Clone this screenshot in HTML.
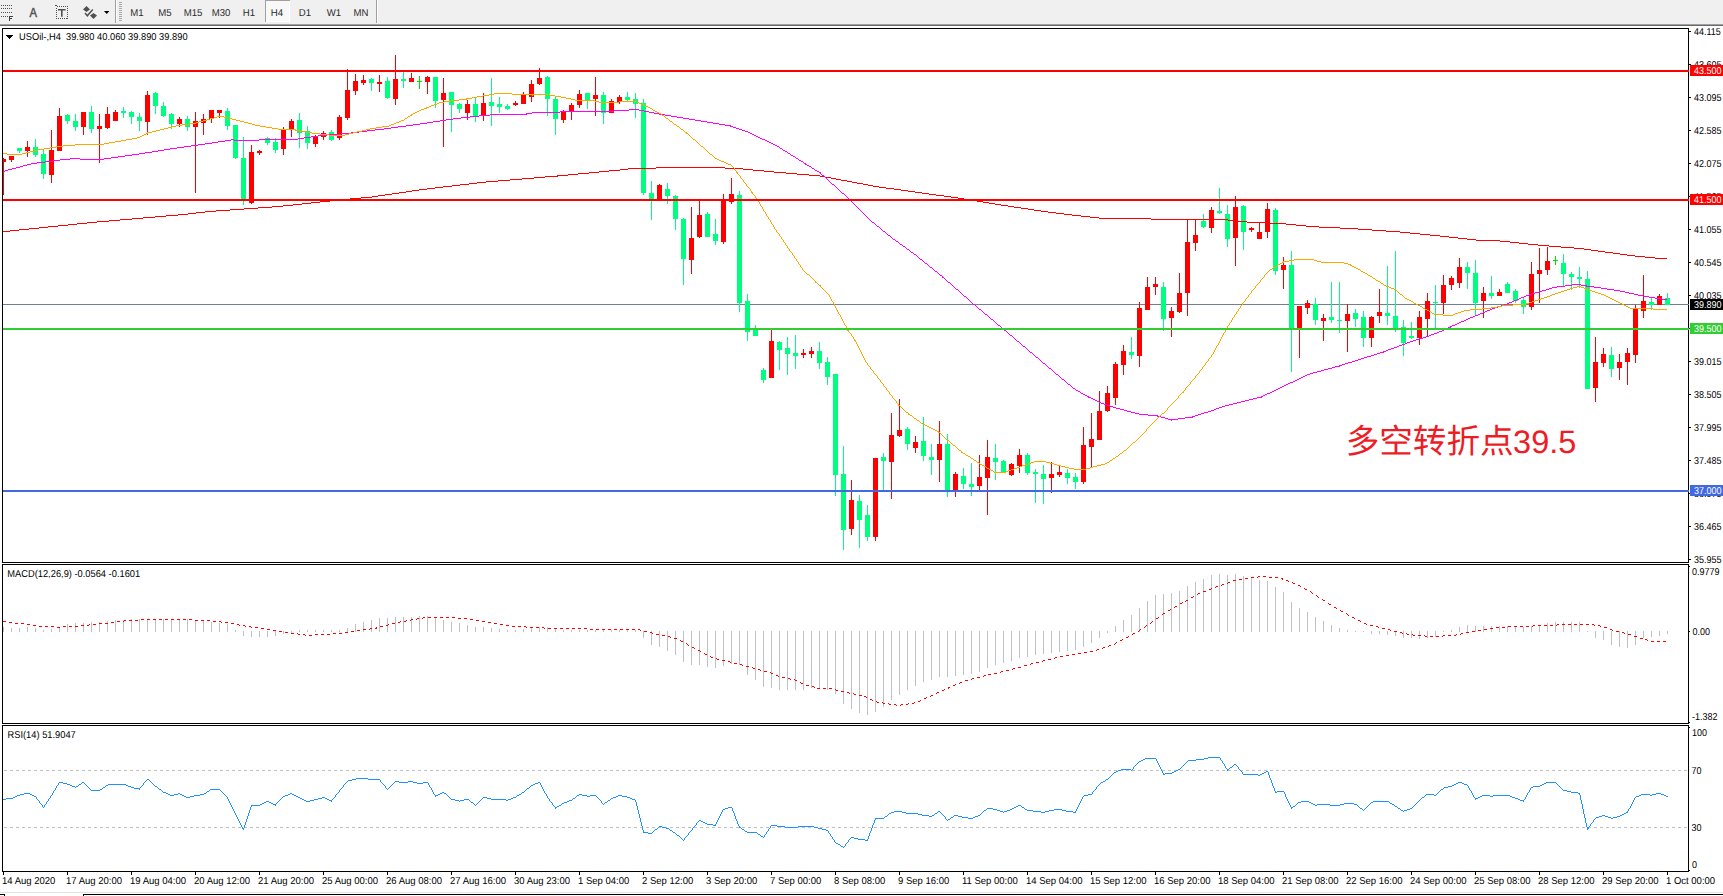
<!DOCTYPE html>
<html lang="zh"><head><meta charset="utf-8"><title>USOil H4</title>
<style>
html,body{margin:0;padding:0;background:#fff;}
body{width:1723px;height:896px;overflow:hidden;position:relative;font-family:"Liberation Sans", "Noto Sans CJK SC", sans-serif;}
#toolbar{position:absolute;left:0;top:0;width:1723px;height:24px;background:#f0f0f0;border-bottom:1px solid #a0a0a0;box-shadow:0 1px 0 #696969;}
#toolbar .tf{position:absolute;top:0;width:28px;height:22px;line-height:27px;text-align:center;font-size:10px;color:#2a2a2a;text-rendering:geometricPrecision;transform:scaleX(0.96);}
#toolbar .tfon{position:absolute;left:265px;top:0;width:25px;height:22px;background:#f8f8f8;box-shadow:inset 1px 1px 0 #a0a0a0, inset -1px -1px 0 #fff;}
#toolbar .sep{position:absolute;top:0;width:1px;height:23px;background:#a0a0a0;box-shadow:1px 0 0 #fff;}
#toolbar .grip{position:absolute;left:119px;top:2px;width:3px;height:19px;background:repeating-linear-gradient(#a8a8a8 0 1px,transparent 1px 2px);}
#toolbar svg{position:absolute;left:0;top:0;}
#chart{position:absolute;left:0;top:0;}
#chart text{font-family:"Liberation Sans", "Noto Sans CJK SC", sans-serif;}
</style></head><body>
<div id="chart"><svg width="1723" height="896" viewBox="0 0 1723 896" shape-rendering="crispEdges" text-rendering="geometricPrecision" font-family='"Liberation Sans", "Noto Sans CJK SC", sans-serif' font-size="10">
<g id="frames">
<rect x="2" y="28" width="1687" height="1" fill="#000"/>
<rect x="2" y="562" width="1687" height="1" fill="#000"/>
<rect x="2" y="28" width="1" height="535" fill="#000"/>
<rect x="1688" y="28" width="1" height="535" fill="#000"/>
<rect x="2" y="564" width="1687" height="1" fill="#000"/>
<rect x="2" y="723" width="1687" height="1" fill="#000"/>
<rect x="2" y="564" width="1" height="160" fill="#000"/>
<rect x="1688" y="564" width="1" height="160" fill="#000"/>
<rect x="2" y="725" width="1687" height="1" fill="#000"/>
<rect x="2" y="871" width="1687" height="1" fill="#000"/>
<rect x="2" y="725" width="1" height="147" fill="#000"/>
<rect x="1688" y="725" width="1" height="147" fill="#000"/>
</g>
<g id="main-chart">
<rect x="3" y="304" width="1686" height="1" fill="#708090"/>
<g id="candles">
<rect x="3" y="158" width="1" height="37" fill="#ff0000"/>
<rect x="3" y="159" width="3" height="3" fill="#ff0000"/>
<rect x="11" y="156" width="1" height="6" fill="#ff0000"/>
<rect x="9" y="156" width="5" height="4" fill="#ff0000"/>
<rect x="19" y="148" width="1" height="5" fill="#00ff7f"/>
<rect x="17" y="148" width="5" height="3" fill="#00ff7f"/>
<rect x="27" y="141" width="1" height="16" fill="#ff0000"/>
<rect x="25" y="147" width="5" height="4" fill="#ff0000"/>
<rect x="35" y="139" width="1" height="18" fill="#00ff7f"/>
<rect x="33" y="147" width="5" height="8" fill="#00ff7f"/>
<rect x="43" y="150" width="1" height="29" fill="#00ff7f"/>
<rect x="41" y="154" width="5" height="20" fill="#00ff7f"/>
<rect x="51" y="130" width="1" height="53" fill="#ff0000"/>
<rect x="49" y="150" width="5" height="25" fill="#ff0000"/>
<rect x="59" y="108" width="1" height="43" fill="#ff0000"/>
<rect x="57" y="116" width="5" height="35" fill="#ff0000"/>
<rect x="67" y="114" width="1" height="10" fill="#00ff7f"/>
<rect x="65" y="115" width="5" height="6" fill="#00ff7f"/>
<rect x="75" y="114" width="1" height="17" fill="#00ff7f"/>
<rect x="73" y="121" width="5" height="6" fill="#00ff7f"/>
<rect x="83" y="112" width="1" height="23" fill="#ff0000"/>
<rect x="81" y="112" width="5" height="15" fill="#ff0000"/>
<rect x="91" y="106" width="1" height="27" fill="#00ff7f"/>
<rect x="89" y="112" width="5" height="17" fill="#00ff7f"/>
<rect x="99" y="114" width="1" height="49" fill="#ff0000"/>
<rect x="97" y="126" width="5" height="3" fill="#ff0000"/>
<rect x="107" y="107" width="1" height="22" fill="#ff0000"/>
<rect x="105" y="114" width="5" height="14" fill="#ff0000"/>
<rect x="115" y="110" width="1" height="11" fill="#ff0000"/>
<rect x="113" y="112" width="5" height="9" fill="#ff0000"/>
<rect x="123" y="107" width="1" height="11" fill="#00ff7f"/>
<rect x="121" y="111" width="5" height="2" fill="#00ff7f"/>
<rect x="131" y="111" width="1" height="13" fill="#00ff7f"/>
<rect x="129" y="112" width="5" height="5" fill="#00ff7f"/>
<rect x="139" y="113" width="1" height="18" fill="#00ff7f"/>
<rect x="137" y="117" width="5" height="4" fill="#00ff7f"/>
<rect x="147" y="91" width="1" height="44" fill="#ff0000"/>
<rect x="145" y="95" width="5" height="27" fill="#ff0000"/>
<rect x="155" y="92" width="1" height="22" fill="#00ff7f"/>
<rect x="153" y="93" width="5" height="13" fill="#00ff7f"/>
<rect x="163" y="102" width="1" height="15" fill="#00ff7f"/>
<rect x="161" y="106" width="5" height="10" fill="#00ff7f"/>
<rect x="171" y="113" width="1" height="16" fill="#00ff7f"/>
<rect x="169" y="114" width="5" height="10" fill="#00ff7f"/>
<rect x="179" y="117" width="1" height="10" fill="#ff0000"/>
<rect x="177" y="119" width="5" height="5" fill="#ff0000"/>
<rect x="187" y="116" width="1" height="15" fill="#00ff7f"/>
<rect x="185" y="119" width="5" height="8" fill="#00ff7f"/>
<rect x="195" y="112" width="1" height="81" fill="#ff0000"/>
<rect x="193" y="121" width="5" height="6" fill="#ff0000"/>
<rect x="203" y="114" width="1" height="21" fill="#ff0000"/>
<rect x="201" y="119" width="5" height="4" fill="#ff0000"/>
<rect x="211" y="110" width="1" height="13" fill="#ff0000"/>
<rect x="209" y="110" width="5" height="9" fill="#ff0000"/>
<rect x="219" y="110" width="1" height="8" fill="#ff0000"/>
<rect x="217" y="110" width="5" height="3" fill="#ff0000"/>
<rect x="227" y="108" width="1" height="22" fill="#00ff7f"/>
<rect x="225" y="111" width="5" height="15" fill="#00ff7f"/>
<rect x="235" y="125" width="1" height="34" fill="#00ff7f"/>
<rect x="233" y="125" width="5" height="33" fill="#00ff7f"/>
<rect x="243" y="137" width="1" height="68" fill="#00ff7f"/>
<rect x="241" y="158" width="5" height="43" fill="#00ff7f"/>
<rect x="251" y="145" width="1" height="59" fill="#ff0000"/>
<rect x="249" y="152" width="5" height="51" fill="#ff0000"/>
<rect x="259" y="150" width="1" height="5" fill="#ff0000"/>
<rect x="257" y="151" width="5" height="2" fill="#ff0000"/>
<rect x="267" y="137" width="1" height="8" fill="#00ff7f"/>
<rect x="265" y="138" width="5" height="5" fill="#00ff7f"/>
<rect x="275" y="138" width="1" height="15" fill="#00ff7f"/>
<rect x="273" y="142" width="5" height="8" fill="#00ff7f"/>
<rect x="283" y="127" width="1" height="28" fill="#ff0000"/>
<rect x="281" y="130" width="5" height="19" fill="#ff0000"/>
<rect x="291" y="119" width="1" height="18" fill="#ff0000"/>
<rect x="289" y="121" width="5" height="8" fill="#ff0000"/>
<rect x="299" y="113" width="1" height="35" fill="#00ff7f"/>
<rect x="297" y="120" width="5" height="13" fill="#00ff7f"/>
<rect x="307" y="126" width="1" height="23" fill="#00ff7f"/>
<rect x="305" y="131" width="5" height="12" fill="#00ff7f"/>
<rect x="315" y="135" width="1" height="12" fill="#ff0000"/>
<rect x="313" y="137" width="5" height="7" fill="#ff0000"/>
<rect x="323" y="131" width="1" height="9" fill="#ff0000"/>
<rect x="321" y="133" width="5" height="4" fill="#ff0000"/>
<rect x="331" y="130" width="1" height="11" fill="#00ff7f"/>
<rect x="329" y="132" width="5" height="8" fill="#00ff7f"/>
<rect x="339" y="115" width="1" height="25" fill="#ff0000"/>
<rect x="337" y="117" width="5" height="21" fill="#ff0000"/>
<rect x="347" y="69" width="1" height="51" fill="#ff0000"/>
<rect x="345" y="90" width="5" height="28" fill="#ff0000"/>
<rect x="355" y="74" width="1" height="21" fill="#ff0000"/>
<rect x="353" y="81" width="5" height="10" fill="#ff0000"/>
<rect x="363" y="75" width="1" height="10" fill="#ff0000"/>
<rect x="361" y="80" width="5" height="3" fill="#ff0000"/>
<rect x="371" y="78" width="1" height="13" fill="#00ff7f"/>
<rect x="369" y="79" width="5" height="4" fill="#00ff7f"/>
<rect x="379" y="75" width="1" height="17" fill="#ff0000"/>
<rect x="377" y="82" width="5" height="2" fill="#ff0000"/>
<rect x="387" y="77" width="1" height="22" fill="#00ff7f"/>
<rect x="385" y="81" width="5" height="17" fill="#00ff7f"/>
<rect x="395" y="55" width="1" height="50" fill="#ff0000"/>
<rect x="393" y="79" width="5" height="20" fill="#ff0000"/>
<rect x="403" y="72" width="1" height="16" fill="#00ff7f"/>
<rect x="401" y="79" width="5" height="2" fill="#00ff7f"/>
<rect x="411" y="73" width="1" height="9" fill="#ff0000"/>
<rect x="409" y="78" width="5" height="4" fill="#ff0000"/>
<rect x="419" y="76" width="1" height="13" fill="#00e000"/>
<rect x="417" y="81" width="5" height="1" fill="#00e000"/>
<rect x="427" y="76" width="1" height="18" fill="#ff0000"/>
<rect x="425" y="77" width="5" height="5" fill="#ff0000"/>
<rect x="435" y="77" width="1" height="31" fill="#00ff7f"/>
<rect x="433" y="77" width="5" height="24" fill="#00ff7f"/>
<rect x="443" y="78" width="1" height="69" fill="#ff0000"/>
<rect x="441" y="93" width="5" height="7" fill="#ff0000"/>
<rect x="451" y="92" width="1" height="40" fill="#00ff7f"/>
<rect x="449" y="92" width="5" height="13" fill="#00ff7f"/>
<rect x="459" y="103" width="1" height="10" fill="#00ff7f"/>
<rect x="457" y="104" width="5" height="5" fill="#00ff7f"/>
<rect x="467" y="100" width="1" height="20" fill="#ff0000"/>
<rect x="465" y="104" width="5" height="9" fill="#ff0000"/>
<rect x="475" y="97" width="1" height="25" fill="#00ff7f"/>
<rect x="473" y="104" width="5" height="12" fill="#00ff7f"/>
<rect x="483" y="93" width="1" height="28" fill="#ff0000"/>
<rect x="481" y="103" width="5" height="13" fill="#ff0000"/>
<rect x="491" y="78" width="1" height="48" fill="#00ff7f"/>
<rect x="489" y="102" width="5" height="4" fill="#00ff7f"/>
<rect x="499" y="97" width="1" height="16" fill="#00ff7f"/>
<rect x="497" y="104" width="5" height="3" fill="#00ff7f"/>
<rect x="507" y="104" width="1" height="6" fill="#00ff7f"/>
<rect x="505" y="106" width="5" height="3" fill="#00ff7f"/>
<rect x="515" y="101" width="1" height="5" fill="#ff0000"/>
<rect x="513" y="103" width="5" height="2" fill="#ff0000"/>
<rect x="523" y="92" width="1" height="12" fill="#ff0000"/>
<rect x="521" y="95" width="5" height="9" fill="#ff0000"/>
<rect x="531" y="80" width="1" height="22" fill="#ff0000"/>
<rect x="529" y="84" width="5" height="13" fill="#ff0000"/>
<rect x="539" y="68" width="1" height="17" fill="#ff0000"/>
<rect x="537" y="78" width="5" height="6" fill="#ff0000"/>
<rect x="547" y="76" width="1" height="40" fill="#00ff7f"/>
<rect x="545" y="77" width="5" height="22" fill="#00ff7f"/>
<rect x="555" y="97" width="1" height="38" fill="#00ff7f"/>
<rect x="553" y="99" width="5" height="20" fill="#00ff7f"/>
<rect x="563" y="110" width="1" height="13" fill="#ff0000"/>
<rect x="561" y="111" width="5" height="9" fill="#ff0000"/>
<rect x="571" y="103" width="1" height="17" fill="#ff0000"/>
<rect x="569" y="105" width="5" height="7" fill="#ff0000"/>
<rect x="579" y="90" width="1" height="18" fill="#ff0000"/>
<rect x="577" y="94" width="5" height="11" fill="#ff0000"/>
<rect x="587" y="93" width="1" height="16" fill="#00ff7f"/>
<rect x="585" y="93" width="5" height="7" fill="#00ff7f"/>
<rect x="595" y="77" width="1" height="39" fill="#ff0000"/>
<rect x="593" y="95" width="5" height="4" fill="#ff0000"/>
<rect x="603" y="92" width="1" height="32" fill="#00ff7f"/>
<rect x="601" y="95" width="5" height="18" fill="#00ff7f"/>
<rect x="611" y="99" width="1" height="14" fill="#ff0000"/>
<rect x="609" y="101" width="5" height="12" fill="#ff0000"/>
<rect x="619" y="95" width="1" height="9" fill="#ff0000"/>
<rect x="617" y="97" width="5" height="5" fill="#ff0000"/>
<rect x="627" y="92" width="1" height="9" fill="#00ff7f"/>
<rect x="625" y="97" width="5" height="3" fill="#00ff7f"/>
<rect x="635" y="93" width="1" height="25" fill="#00ff7f"/>
<rect x="633" y="99" width="5" height="5" fill="#00ff7f"/>
<rect x="643" y="99" width="1" height="96" fill="#00ff7f"/>
<rect x="641" y="103" width="5" height="90" fill="#00ff7f"/>
<rect x="651" y="181" width="1" height="39" fill="#00ff7f"/>
<rect x="649" y="193" width="5" height="6" fill="#00ff7f"/>
<rect x="659" y="184" width="1" height="15" fill="#ff0000"/>
<rect x="657" y="185" width="5" height="14" fill="#ff0000"/>
<rect x="667" y="183" width="1" height="21" fill="#00ff7f"/>
<rect x="665" y="189" width="5" height="7" fill="#00ff7f"/>
<rect x="675" y="195" width="1" height="35" fill="#00ff7f"/>
<rect x="673" y="196" width="5" height="23" fill="#00ff7f"/>
<rect x="683" y="218" width="1" height="67" fill="#00ff7f"/>
<rect x="681" y="219" width="5" height="40" fill="#00ff7f"/>
<rect x="691" y="207" width="1" height="67" fill="#ff0000"/>
<rect x="689" y="238" width="5" height="22" fill="#ff0000"/>
<rect x="699" y="200" width="1" height="38" fill="#ff0000"/>
<rect x="697" y="215" width="5" height="22" fill="#ff0000"/>
<rect x="707" y="212" width="1" height="25" fill="#00ff7f"/>
<rect x="705" y="214" width="5" height="23" fill="#00ff7f"/>
<rect x="715" y="219" width="1" height="26" fill="#00ff7f"/>
<rect x="713" y="234" width="5" height="7" fill="#00ff7f"/>
<rect x="723" y="194" width="1" height="50" fill="#ff0000"/>
<rect x="721" y="199" width="5" height="43" fill="#ff0000"/>
<rect x="731" y="178" width="1" height="26" fill="#ff0000"/>
<rect x="729" y="194" width="5" height="8" fill="#ff0000"/>
<rect x="739" y="191" width="1" height="121" fill="#00ff7f"/>
<rect x="737" y="195" width="5" height="108" fill="#00ff7f"/>
<rect x="747" y="294" width="1" height="47" fill="#00ff7f"/>
<rect x="745" y="301" width="5" height="31" fill="#00ff7f"/>
<rect x="755" y="325" width="1" height="11" fill="#00ff7f"/>
<rect x="753" y="330" width="5" height="6" fill="#00ff7f"/>
<rect x="763" y="368" width="1" height="15" fill="#00ff7f"/>
<rect x="761" y="370" width="5" height="10" fill="#00ff7f"/>
<rect x="771" y="330" width="1" height="48" fill="#ff0000"/>
<rect x="769" y="341" width="5" height="37" fill="#ff0000"/>
<rect x="779" y="341" width="1" height="29" fill="#00ff7f"/>
<rect x="777" y="342" width="5" height="8" fill="#00ff7f"/>
<rect x="787" y="337" width="1" height="38" fill="#00ff7f"/>
<rect x="785" y="348" width="5" height="6" fill="#00ff7f"/>
<rect x="795" y="335" width="1" height="34" fill="#00ff7f"/>
<rect x="793" y="353" width="5" height="3" fill="#00ff7f"/>
<rect x="803" y="349" width="1" height="9" fill="#ff0000"/>
<rect x="801" y="353" width="5" height="2" fill="#ff0000"/>
<rect x="811" y="347" width="1" height="11" fill="#ff0000"/>
<rect x="809" y="351" width="5" height="3" fill="#ff0000"/>
<rect x="819" y="342" width="1" height="27" fill="#00ff7f"/>
<rect x="817" y="351" width="5" height="12" fill="#00ff7f"/>
<rect x="827" y="357" width="1" height="28" fill="#00ff7f"/>
<rect x="825" y="362" width="5" height="15" fill="#00ff7f"/>
<rect x="835" y="374" width="1" height="122" fill="#00ff7f"/>
<rect x="833" y="374" width="5" height="101" fill="#00ff7f"/>
<rect x="843" y="446" width="1" height="104" fill="#00ff7f"/>
<rect x="841" y="474" width="5" height="56" fill="#00ff7f"/>
<rect x="851" y="480" width="1" height="55" fill="#ff0000"/>
<rect x="849" y="500" width="5" height="29" fill="#ff0000"/>
<rect x="859" y="495" width="1" height="53" fill="#00ff7f"/>
<rect x="857" y="501" width="5" height="19" fill="#00ff7f"/>
<rect x="867" y="505" width="1" height="36" fill="#00ff7f"/>
<rect x="865" y="515" width="5" height="22" fill="#00ff7f"/>
<rect x="875" y="458" width="1" height="83" fill="#ff0000"/>
<rect x="873" y="458" width="5" height="79" fill="#ff0000"/>
<rect x="883" y="453" width="1" height="37" fill="#00ff7f"/>
<rect x="881" y="457" width="5" height="4" fill="#00ff7f"/>
<rect x="891" y="413" width="1" height="86" fill="#ff0000"/>
<rect x="889" y="435" width="5" height="27" fill="#ff0000"/>
<rect x="899" y="399" width="1" height="38" fill="#ff0000"/>
<rect x="897" y="430" width="5" height="6" fill="#ff0000"/>
<rect x="907" y="427" width="1" height="23" fill="#00ff7f"/>
<rect x="905" y="429" width="5" height="15" fill="#00ff7f"/>
<rect x="915" y="436" width="1" height="17" fill="#ff0000"/>
<rect x="913" y="442" width="5" height="6" fill="#ff0000"/>
<rect x="923" y="417" width="1" height="44" fill="#00ff7f"/>
<rect x="921" y="441" width="5" height="15" fill="#00ff7f"/>
<rect x="931" y="444" width="1" height="31" fill="#00ff7f"/>
<rect x="929" y="457" width="5" height="3" fill="#00ff7f"/>
<rect x="939" y="421" width="1" height="61" fill="#ff0000"/>
<rect x="937" y="444" width="5" height="16" fill="#ff0000"/>
<rect x="947" y="434" width="1" height="63" fill="#00ff7f"/>
<rect x="945" y="444" width="5" height="46" fill="#00ff7f"/>
<rect x="955" y="472" width="1" height="25" fill="#ff0000"/>
<rect x="953" y="474" width="5" height="16" fill="#ff0000"/>
<rect x="963" y="468" width="1" height="21" fill="#00ff7f"/>
<rect x="961" y="476" width="5" height="8" fill="#00ff7f"/>
<rect x="971" y="463" width="1" height="33" fill="#00ff7f"/>
<rect x="969" y="484" width="5" height="3" fill="#00ff7f"/>
<rect x="979" y="455" width="1" height="35" fill="#ff0000"/>
<rect x="977" y="477" width="5" height="9" fill="#ff0000"/>
<rect x="987" y="440" width="1" height="75" fill="#ff0000"/>
<rect x="985" y="457" width="5" height="21" fill="#ff0000"/>
<rect x="995" y="444" width="1" height="36" fill="#00ff7f"/>
<rect x="993" y="458" width="5" height="4" fill="#00ff7f"/>
<rect x="1003" y="460" width="1" height="13" fill="#00ff7f"/>
<rect x="1001" y="461" width="5" height="12" fill="#00ff7f"/>
<rect x="1011" y="463" width="1" height="13" fill="#ff0000"/>
<rect x="1009" y="464" width="5" height="11" fill="#ff0000"/>
<rect x="1019" y="449" width="1" height="24" fill="#ff0000"/>
<rect x="1017" y="455" width="5" height="11" fill="#ff0000"/>
<rect x="1027" y="453" width="1" height="22" fill="#00ff7f"/>
<rect x="1025" y="455" width="5" height="18" fill="#00ff7f"/>
<rect x="1035" y="469" width="1" height="34" fill="#00ff7f"/>
<rect x="1033" y="472" width="5" height="2" fill="#00ff7f"/>
<rect x="1043" y="465" width="1" height="39" fill="#00ff7f"/>
<rect x="1041" y="474" width="5" height="5" fill="#00ff7f"/>
<rect x="1051" y="462" width="1" height="31" fill="#ff0000"/>
<rect x="1049" y="474" width="5" height="4" fill="#ff0000"/>
<rect x="1059" y="466" width="1" height="11" fill="#ff0000"/>
<rect x="1057" y="472" width="5" height="3" fill="#ff0000"/>
<rect x="1067" y="469" width="1" height="15" fill="#00ff7f"/>
<rect x="1065" y="473" width="5" height="5" fill="#00ff7f"/>
<rect x="1075" y="473" width="1" height="16" fill="#00ff7f"/>
<rect x="1073" y="477" width="5" height="5" fill="#00ff7f"/>
<rect x="1083" y="427" width="1" height="57" fill="#ff0000"/>
<rect x="1081" y="445" width="5" height="37" fill="#ff0000"/>
<rect x="1091" y="413" width="1" height="54" fill="#ff0000"/>
<rect x="1089" y="439" width="5" height="8" fill="#ff0000"/>
<rect x="1099" y="391" width="1" height="49" fill="#ff0000"/>
<rect x="1097" y="411" width="5" height="29" fill="#ff0000"/>
<rect x="1107" y="386" width="1" height="26" fill="#ff0000"/>
<rect x="1105" y="393" width="5" height="18" fill="#ff0000"/>
<rect x="1115" y="362" width="1" height="43" fill="#ff0000"/>
<rect x="1113" y="364" width="5" height="34" fill="#ff0000"/>
<rect x="1123" y="345" width="1" height="30" fill="#ff0000"/>
<rect x="1121" y="351" width="5" height="14" fill="#ff0000"/>
<rect x="1131" y="337" width="1" height="22" fill="#00ff7f"/>
<rect x="1129" y="352" width="5" height="3" fill="#00ff7f"/>
<rect x="1139" y="302" width="1" height="65" fill="#ff0000"/>
<rect x="1137" y="308" width="5" height="48" fill="#ff0000"/>
<rect x="1147" y="277" width="1" height="33" fill="#ff0000"/>
<rect x="1145" y="287" width="5" height="23" fill="#ff0000"/>
<rect x="1155" y="277" width="1" height="18" fill="#ff0000"/>
<rect x="1153" y="284" width="5" height="3" fill="#ff0000"/>
<rect x="1163" y="282" width="1" height="49" fill="#00ff7f"/>
<rect x="1161" y="287" width="5" height="32" fill="#00ff7f"/>
<rect x="1171" y="307" width="1" height="30" fill="#ff0000"/>
<rect x="1169" y="311" width="5" height="7" fill="#ff0000"/>
<rect x="1179" y="273" width="1" height="40" fill="#ff0000"/>
<rect x="1177" y="293" width="5" height="19" fill="#ff0000"/>
<rect x="1187" y="220" width="1" height="96" fill="#ff0000"/>
<rect x="1185" y="242" width="5" height="51" fill="#ff0000"/>
<rect x="1195" y="220" width="1" height="31" fill="#ff0000"/>
<rect x="1193" y="235" width="5" height="8" fill="#ff0000"/>
<rect x="1203" y="214" width="1" height="14" fill="#00ff7f"/>
<rect x="1201" y="221" width="5" height="6" fill="#00ff7f"/>
<rect x="1211" y="207" width="1" height="26" fill="#ff0000"/>
<rect x="1209" y="210" width="5" height="18" fill="#ff0000"/>
<rect x="1219" y="188" width="1" height="26" fill="#00ff7f"/>
<rect x="1217" y="211" width="5" height="2" fill="#00ff7f"/>
<rect x="1227" y="205" width="1" height="42" fill="#00ff7f"/>
<rect x="1225" y="214" width="5" height="25" fill="#00ff7f"/>
<rect x="1235" y="196" width="1" height="70" fill="#ff0000"/>
<rect x="1233" y="207" width="5" height="31" fill="#ff0000"/>
<rect x="1243" y="205" width="1" height="45" fill="#00ff7f"/>
<rect x="1241" y="206" width="5" height="26" fill="#00ff7f"/>
<rect x="1251" y="227" width="1" height="5" fill="#ff0000"/>
<rect x="1249" y="228" width="5" height="2" fill="#ff0000"/>
<rect x="1259" y="223" width="1" height="16" fill="#ff0000"/>
<rect x="1257" y="232" width="5" height="7" fill="#ff0000"/>
<rect x="1267" y="203" width="1" height="35" fill="#ff0000"/>
<rect x="1265" y="209" width="5" height="23" fill="#ff0000"/>
<rect x="1275" y="208" width="1" height="67" fill="#00ff7f"/>
<rect x="1273" y="210" width="5" height="61" fill="#00ff7f"/>
<rect x="1283" y="257" width="1" height="32" fill="#ff0000"/>
<rect x="1281" y="265" width="5" height="5" fill="#ff0000"/>
<rect x="1291" y="251" width="1" height="121" fill="#00ff7f"/>
<rect x="1289" y="265" width="5" height="63" fill="#00ff7f"/>
<rect x="1299" y="306" width="1" height="52" fill="#ff0000"/>
<rect x="1297" y="306" width="5" height="22" fill="#ff0000"/>
<rect x="1307" y="300" width="1" height="14" fill="#ff0000"/>
<rect x="1305" y="303" width="5" height="5" fill="#ff0000"/>
<rect x="1315" y="298" width="1" height="27" fill="#00ff7f"/>
<rect x="1313" y="304" width="5" height="16" fill="#00ff7f"/>
<rect x="1323" y="314" width="1" height="27" fill="#ff0000"/>
<rect x="1321" y="318" width="5" height="3" fill="#ff0000"/>
<rect x="1331" y="282" width="1" height="41" fill="#00ff7f"/>
<rect x="1329" y="317" width="5" height="3" fill="#00ff7f"/>
<rect x="1339" y="282" width="1" height="51" fill="#00ff7f"/>
<rect x="1337" y="320" width="5" height="1" fill="#00ff7f"/>
<rect x="1347" y="304" width="1" height="48" fill="#ff0000"/>
<rect x="1345" y="314" width="5" height="7" fill="#ff0000"/>
<rect x="1355" y="309" width="1" height="18" fill="#00ff7f"/>
<rect x="1353" y="313" width="5" height="6" fill="#00ff7f"/>
<rect x="1363" y="311" width="1" height="36" fill="#00ff7f"/>
<rect x="1361" y="317" width="5" height="21" fill="#00ff7f"/>
<rect x="1371" y="316" width="1" height="31" fill="#ff0000"/>
<rect x="1369" y="317" width="5" height="21" fill="#ff0000"/>
<rect x="1379" y="289" width="1" height="34" fill="#ff0000"/>
<rect x="1377" y="312" width="5" height="4" fill="#ff0000"/>
<rect x="1387" y="266" width="1" height="59" fill="#00ff7f"/>
<rect x="1385" y="313" width="5" height="3" fill="#00ff7f"/>
<rect x="1395" y="251" width="1" height="81" fill="#00ff7f"/>
<rect x="1393" y="316" width="5" height="12" fill="#00ff7f"/>
<rect x="1403" y="320" width="1" height="36" fill="#00ff7f"/>
<rect x="1401" y="327" width="5" height="16" fill="#00ff7f"/>
<rect x="1411" y="322" width="1" height="17" fill="#00ff7f"/>
<rect x="1409" y="336" width="5" height="2" fill="#00ff7f"/>
<rect x="1419" y="311" width="1" height="34" fill="#ff0000"/>
<rect x="1417" y="317" width="5" height="21" fill="#ff0000"/>
<rect x="1427" y="293" width="1" height="43" fill="#ff0000"/>
<rect x="1425" y="301" width="5" height="18" fill="#ff0000"/>
<rect x="1435" y="285" width="1" height="43" fill="#00ff7f"/>
<rect x="1433" y="302" width="5" height="1" fill="#00ff7f"/>
<rect x="1443" y="275" width="1" height="39" fill="#ff0000"/>
<rect x="1441" y="285" width="5" height="18" fill="#ff0000"/>
<rect x="1451" y="276" width="1" height="14" fill="#ff0000"/>
<rect x="1449" y="278" width="5" height="7" fill="#ff0000"/>
<rect x="1459" y="258" width="1" height="30" fill="#ff0000"/>
<rect x="1457" y="267" width="5" height="16" fill="#ff0000"/>
<rect x="1467" y="262" width="1" height="27" fill="#00ff7f"/>
<rect x="1465" y="267" width="5" height="6" fill="#00ff7f"/>
<rect x="1475" y="260" width="1" height="56" fill="#00ff7f"/>
<rect x="1473" y="273" width="5" height="30" fill="#00ff7f"/>
<rect x="1483" y="287" width="1" height="31" fill="#ff0000"/>
<rect x="1481" y="293" width="5" height="8" fill="#ff0000"/>
<rect x="1491" y="276" width="1" height="23" fill="#00ff7f"/>
<rect x="1489" y="293" width="5" height="3" fill="#00ff7f"/>
<rect x="1499" y="289" width="1" height="7" fill="#ff0000"/>
<rect x="1497" y="292" width="5" height="4" fill="#ff0000"/>
<rect x="1507" y="282" width="1" height="11" fill="#00ff7f"/>
<rect x="1505" y="284" width="5" height="9" fill="#00ff7f"/>
<rect x="1515" y="289" width="1" height="14" fill="#00ff7f"/>
<rect x="1513" y="291" width="5" height="10" fill="#00ff7f"/>
<rect x="1523" y="298" width="1" height="16" fill="#00ff7f"/>
<rect x="1521" y="300" width="5" height="7" fill="#00ff7f"/>
<rect x="1531" y="262" width="1" height="48" fill="#ff0000"/>
<rect x="1529" y="274" width="5" height="33" fill="#ff0000"/>
<rect x="1539" y="248" width="1" height="55" fill="#ff0000"/>
<rect x="1537" y="270" width="5" height="4" fill="#ff0000"/>
<rect x="1547" y="247" width="1" height="28" fill="#ff0000"/>
<rect x="1545" y="261" width="5" height="9" fill="#ff0000"/>
<rect x="1555" y="256" width="1" height="9" fill="#00e000"/>
<rect x="1553" y="260" width="5" height="1" fill="#00e000"/>
<rect x="1563" y="254" width="1" height="32" fill="#00ff7f"/>
<rect x="1561" y="263" width="5" height="11" fill="#00ff7f"/>
<rect x="1571" y="272" width="1" height="18" fill="#00ff7f"/>
<rect x="1569" y="274" width="5" height="3" fill="#00ff7f"/>
<rect x="1579" y="267" width="1" height="21" fill="#00ff7f"/>
<rect x="1577" y="277" width="5" height="2" fill="#00ff7f"/>
<rect x="1587" y="271" width="1" height="118" fill="#00ff7f"/>
<rect x="1585" y="279" width="5" height="110" fill="#00ff7f"/>
<rect x="1595" y="337" width="1" height="65" fill="#ff0000"/>
<rect x="1593" y="362" width="5" height="26" fill="#ff0000"/>
<rect x="1603" y="348" width="1" height="19" fill="#ff0000"/>
<rect x="1601" y="354" width="5" height="9" fill="#ff0000"/>
<rect x="1611" y="347" width="1" height="30" fill="#00ff7f"/>
<rect x="1609" y="355" width="5" height="14" fill="#00ff7f"/>
<rect x="1619" y="354" width="1" height="26" fill="#ff0000"/>
<rect x="1617" y="362" width="5" height="6" fill="#ff0000"/>
<rect x="1627" y="348" width="1" height="37" fill="#ff0000"/>
<rect x="1625" y="353" width="5" height="9" fill="#ff0000"/>
<rect x="1635" y="305" width="1" height="58" fill="#ff0000"/>
<rect x="1633" y="309" width="5" height="46" fill="#ff0000"/>
<rect x="1643" y="275" width="1" height="43" fill="#ff0000"/>
<rect x="1641" y="301" width="5" height="10" fill="#ff0000"/>
<rect x="1651" y="298" width="1" height="12" fill="#00ff7f"/>
<rect x="1649" y="302" width="5" height="3" fill="#00ff7f"/>
<rect x="1659" y="294" width="1" height="11" fill="#ff0000"/>
<rect x="1657" y="296" width="5" height="9" fill="#ff0000"/>
<rect x="1667" y="293" width="1" height="12" fill="#00ff7f"/>
<rect x="1665" y="298" width="5" height="7" fill="#00ff7f"/>
</g>
<g id="moving-averages">
<path d="M656 167.5h69M628 168.5h28M725 168.5h18M620 169.5h8M743 169.5h10M609 170.5h11M753 170.5h11M599 171.5h10M764 171.5h10M589 172.5h10M774 172.5h12M578 173.5h11M786 173.5h11M568 174.5h10M797 174.5h12M557 175.5h11M809 175.5h11M545 176.5h13M820 176.5h5M534 177.5h11M825 177.5h6M522 178.5h12M831 178.5h5M510 179.5h12M836 179.5h5M498 180.5h12M841 180.5h6M486 181.5h12M847 181.5h5M477 182.5h9M852 182.5h5M469 183.5h8M857 183.5h6M460 184.5h9M863 184.5h5M452 185.5h8M868 185.5h5M443 186.5h9M873 186.5h6M435 187.5h8M879 187.5h7M427 188.5h8M886 188.5h8M419 189.5h8M894 189.5h7M412 190.5h7M901 190.5h7M406 191.5h6M908 191.5h7M399 192.5h7M915 192.5h7M392 193.5h7M922 193.5h7M385 194.5h7M929 194.5h7M378 195.5h7M936 195.5h8M372 196.5h6M944 196.5h7M361 197.5h11M951 197.5h7M350 198.5h11M958 198.5h6M340 199.5h10M964 199.5h7M330 200.5h10M971 200.5h6M320 201.5h10M977 201.5h6M311 202.5h9M983 202.5h6M302 203.5h9M989 203.5h6M293 204.5h9M995 204.5h6M283 205.5h10M1001 205.5h7M272 206.5h11M1008 206.5h6M258 207.5h14M1014 207.5h7M244 208.5h14M1021 208.5h7M230 209.5h14M1028 209.5h6M216 210.5h14M1034 210.5h7M205 211.5h11M1041 211.5h7M196 212.5h9M1048 212.5h8M188 213.5h8M1056 213.5h8M178 214.5h10M1064 214.5h8M166 215.5h12M1072 215.5h9M155 216.5h11M1081 216.5h9M143 217.5h12M1090 217.5h9M132 218.5h11M1099 218.5h52M120 219.5h12M1151 219.5h77M109 220.5h11M1228 220.5h8M97 221.5h12M1236 221.5h11M87 222.5h10M1247 222.5h19M77 223.5h10M1266 223.5h20M68 224.5h9M1286 224.5h10M58 225.5h10M1296 225.5h10M48 226.5h10M1306 226.5h13M39 227.5h9M1319 227.5h21M29 228.5h10M1340 228.5h18M19 229.5h10M1358 229.5h14M10 230.5h9M1372 230.5h14M3 231.5h7M1386 231.5h14M1400 232.5h10M1410 233.5h10M1420 234.5h10M1430 235.5h10M1440 236.5h9M1449 237.5h9M1458 238.5h9M1467 239.5h9M1476 240.5h24M1500 241.5h10M1510 242.5h9M1519 243.5h9M1528 244.5h10M1538 245.5h11M1549 246.5h12M1561 247.5h13M1574 248.5h10M1584 249.5h7M1591 250.5h7M1598 251.5h7M1605 252.5h8M1613 253.5h7M1620 254.5h7M1627 255.5h8M1635 256.5h10M1645 257.5h10M1655 258.5h12" fill="none" stroke="#ff0000" stroke-width="1"/>
<path d="M629 109.5h10M614 110.5h15M639 110.5h5M560 111.5h54M644 111.5h5M532 112.5h28M649 112.5h5M526 113.5h6M654 113.5h5M490 114.5h37M659 114.5h6M479 115.5h11M665 115.5h6M470 116.5h9M671 116.5h6M461 117.5h9M677 117.5h6M453 118.5h8M683 118.5h6M446 119.5h7M689 119.5h6M440 120.5h6M695 120.5h6M433 121.5h7M701 121.5h6M427 122.5h6M707 122.5h6M420 123.5h7M713 123.5h6M413 124.5h7M719 124.5h6M406 125.5h7M725 125.5h6M398 126.5h8M730 126.5h3M391 127.5h7M733 127.5h3M384 128.5h7M736 128.5h3M375 129.5h9M739 129.5h3M367 130.5h8M742 130.5h3M359 131.5h8M745 131.5h3M351 132.5h8M748 132.5h2M341 133.5h10M750 133.5h2M327 134.5h14M752 134.5h2M318 135.5h9M754 135.5h2M311 136.5h7M756 136.5h2M304 137.5h7M758 137.5h2M298 138.5h6M760 138.5h2M231 139.5h3M259 139.5h39M762 139.5h3M225 140.5h6M234 140.5h25M765 140.5h2M218 141.5h7M767 141.5h2M212 142.5h6M769 142.5h2M205 143.5h7M771 143.5h2M198 144.5h7M773 144.5h2M191 145.5h7M775 145.5h2M184 146.5h7M777 146.5h2M177 147.5h7M779 147.5h1M170 148.5h7M780 148.5h2M164 149.5h6M782 149.5h1M158 150.5h6M783 150.5h2M152 151.5h6M785 151.5h2M145 152.5h7M787 152.5h1M139 153.5h6M788 153.5h2M132 154.5h7M790 154.5h1M125 155.5h7M791 155.5h2M118 156.5h7M793 156.5h2M111 157.5h7M795 157.5h1M70 158.5h10M104 158.5h7M796 158.5h2M60 159.5h10M80 159.5h24M798 159.5h1M53 160.5h7M799 160.5h2M45 161.5h8M801 161.5h2M37 162.5h8M803 162.5h1M31 163.5h6M804 163.5h2M27 164.5h4M805 164.5h2M23 165.5h4M807 165.5h2M20 166.5h3M809 166.5h2M16 167.5h4M811 167.5h1M12 168.5h4M812 168.5h2M8 169.5h4M814 169.5h1M5 170.5h3M815 170.5h2M3 171.5h2M817 171.5h2M819 172.5h2M821 174.5h1M822 175.5h2M824 176.5h1M825 177.5h1M826 178.5h1M827 179.5h1M828 180.5h1M829 181.5h1M830 182.5h1M831 183.5h1M832 184.5h2M834 185.5h1M835 186.5h1M836 187.5h1M837 188.5h1M838 189.5h1M839 190.5h1M840 191.5h1M841 192.5h1M842 193.5h2M844 194.5h1M845 195.5h1M846 196.5h1M847 197.5h1M848 198.5h1M849 199.5h1M850 200.5h1M851 201.5h1M852 202.5h1M853 203.5h1M854 204.5h1M855 205.5h1M856 206.5h1M857 207.5h1M858 208.5h1M859 209.5h1M860 210.5h1M861 211.5h1M862 212.5h1M863 213.5h1M864 214.5h1M865 215.5h1M866 216.5h1M867 217.5h1M868 218.5h1M869 219.5h1M870 220.5h1M871 221.5h1M872 222.5h2M874 223.5h1M875 224.5h1M876 225.5h1M877 226.5h2M879 227.5h1M880 228.5h1M881 229.5h1M882 230.5h1M883 231.5h2M885 232.5h1M886 233.5h1M887 234.5h1M888 235.5h2M890 236.5h1M891 237.5h1M892 238.5h1M893 239.5h2M895 240.5h1M896 241.5h2M898 242.5h1M899 243.5h1M900 244.5h2M902 245.5h1M903 246.5h2M905 247.5h1M906 248.5h1M907 249.5h2M909 250.5h1M910 251.5h1M911 252.5h2M913 253.5h1M914 254.5h2M916 255.5h1M917 256.5h1M918 257.5h1M919 258.5h1M920 259.5h2M922 260.5h1M923 261.5h1M924 262.5h1M925 263.5h2M927 264.5h1M928 265.5h1M929 266.5h1M930 267.5h2M932 268.5h1M933 269.5h1M934 270.5h1M935 271.5h2M937 272.5h1M938 273.5h1M939 274.5h1M940 275.5h2M942 277.5h2M944 278.5h1M945 279.5h1M946 280.5h1M947 281.5h1M948 282.5h2M950 283.5h1M951 284.5h1M1572 284.5h9M952 285.5h1M1565 285.5h7M1581 285.5h6M953 286.5h1M1557 286.5h8M1586 286.5h8M954 287.5h1M1552 287.5h5M1594 287.5h7M955 288.5h1M1549 288.5h3M1601 288.5h6M956 289.5h2M1546 289.5h3M1607 289.5h7M958 290.5h1M1542 290.5h4M1614 290.5h6M959 291.5h1M1539 291.5h3M1620 291.5h5M960 292.5h1M1535 292.5h4M1625 292.5h4M961 293.5h1M1532 293.5h3M1629 293.5h5M962 294.5h1M1529 294.5h3M1634 294.5h4M963 295.5h1M1526 295.5h3M1638 295.5h5M964 296.5h2M1524 296.5h2M1643 296.5h6M966 297.5h1M1521 297.5h3M1649 297.5h6M967 298.5h1M1519 298.5h2M1655 298.5h7M968 299.5h1M1517 299.5h2M1662 299.5h5M969 300.5h1M1514 300.5h3M970 301.5h1M1512 301.5h2M971 302.5h1M1509 302.5h3M972 303.5h1M1507 303.5h2M973 304.5h2M1504 304.5h3M975 305.5h1M1501 305.5h3M976 306.5h1M1498 306.5h3M977 307.5h1M1495 307.5h3M978 308.5h1M1492 308.5h3M979 309.5h2M1490 309.5h2M981 310.5h1M1487 310.5h3M982 311.5h1M1485 311.5h2M983 312.5h1M1483 312.5h2M984 313.5h1M1480 313.5h3M985 314.5h2M1478 314.5h2M987 315.5h1M1475 315.5h3M988 316.5h1M1473 316.5h2M989 317.5h1M1470 317.5h3M990 318.5h1M1468 318.5h2M991 319.5h2M1466 319.5h2M993 320.5h1M1464 320.5h2M994 321.5h1M1461 321.5h3M995 322.5h1M1459 322.5h2M996 323.5h1M1457 323.5h2M997 324.5h1M1455 324.5h2M998 325.5h2M1452 325.5h3M1000 326.5h1M1450 326.5h2M1001 327.5h1M1448 327.5h3M1002 328.5h1M1446 328.5h2M1003 329.5h2M1444 329.5h2M1004 330.5h2M1442 330.5h2M1006 331.5h1M1439 331.5h3M1007 332.5h1M1437 332.5h2M1008 333.5h1M1434 333.5h3M1009 334.5h1M1431 334.5h3M1010 335.5h2M1429 335.5h2M1012 336.5h1M1426 336.5h3M1013 337.5h1M1423 337.5h3M1014 338.5h1M1419 338.5h4M1015 339.5h1M1416 339.5h3M1016 340.5h1M1413 340.5h3M1017 341.5h2M1410 341.5h3M1019 342.5h1M1407 342.5h3M1020 343.5h1M1405 343.5h2M1021 344.5h1M1402 344.5h3M1022 345.5h1M1399 345.5h3M1023 346.5h2M1397 346.5h2M1025 347.5h1M1394 347.5h3M1026 348.5h1M1391 348.5h3M1027 349.5h1M1388 349.5h3M1028 350.5h1M1386 350.5h2M1029 351.5h1M1383 351.5h3M1030 352.5h2M1380 352.5h4M1032 353.5h1M1377 353.5h3M1033 354.5h1M1374 354.5h3M1034 355.5h1M1371 355.5h3M1035 356.5h1M1367 356.5h4M1036 357.5h2M1364 357.5h3M1038 358.5h1M1361 358.5h3M1039 359.5h1M1358 359.5h3M1040 360.5h1M1355 360.5h3M1041 361.5h1M1352 361.5h3M1042 362.5h1M1348 362.5h4M1043 363.5h2M1345 363.5h3M1045 364.5h1M1342 364.5h3M1046 365.5h1M1339 365.5h3M1047 366.5h1M1335 366.5h5M1048 367.5h1M1332 367.5h3M1049 368.5h2M1328 368.5h4M1051 369.5h1M1324 369.5h4M1052 370.5h1M1321 370.5h3M1053 371.5h1M1317 371.5h4M1054 372.5h1M1313 372.5h4M1055 373.5h1M1310 373.5h3M1056 374.5h2M1307 374.5h3M1058 375.5h1M1305 375.5h2M1059 376.5h1M1303 376.5h2M1060 377.5h1M1301 377.5h2M1061 378.5h1M1299 378.5h2M1062 379.5h2M1297 379.5h2M1064 380.5h1M1295 380.5h2M1065 381.5h1M1293 381.5h2M1066 382.5h1M1290 382.5h3M1067 383.5h1M1288 383.5h2M1068 384.5h2M1286 384.5h2M1070 385.5h1M1284 385.5h2M1071 386.5h1M1282 386.5h2M1072 387.5h1M1280 387.5h2M1073 388.5h2M1278 388.5h2M1075 389.5h1M1276 389.5h2M1076 390.5h2M1274 390.5h2M1078 391.5h2M1272 391.5h2M1080 392.5h1M1270 392.5h2M1081 393.5h2M1267 393.5h3M1083 394.5h2M1265 394.5h2M1085 395.5h2M1263 395.5h2M1087 396.5h2M1261 396.5h2M1088 397.5h3M1257 397.5h5M1091 398.5h2M1253 398.5h4M1093 399.5h2M1249 399.5h4M1095 400.5h2M1245 400.5h4M1097 401.5h2M1241 401.5h4M1099 402.5h2M1237 402.5h4M1101 403.5h3M1233 403.5h4M1104 404.5h3M1229 404.5h4M1107 405.5h3M1225 405.5h4M1110 406.5h3M1222 406.5h3M1113 407.5h3M1219 407.5h3M1116 408.5h4M1216 408.5h3M1120 409.5h4M1214 409.5h2M1124 410.5h3M1211 410.5h3M1127 411.5h4M1208 411.5h3M1131 412.5h4M1204 412.5h4M1135 413.5h4M1201 413.5h3M1139 414.5h9M1198 414.5h3M1148 415.5h10M1195 415.5h3M1157 416.5h4M1192 416.5h3M1161 417.5h4M1185 417.5h8M1165 418.5h3M1178 418.5h7M1168 419.5h10M820.5 173v1M942.5 276v1M1171.5 420v1" fill="none" stroke="#ff00ff" stroke-width="1"/>
<path d="M494 93.5h18M489 94.5h5M512 94.5h38M483 95.5h6M550 95.5h5M477 96.5h6M555 96.5h6M472 97.5h5M561 97.5h5M466 98.5h6M566 98.5h5M459 99.5h8M571 99.5h4M451 100.5h8M575 100.5h20M444 101.5h7M595 101.5h4M619 101.5h18M439 102.5h5M599 102.5h20M637 102.5h2M437 103.5h2M639 103.5h2M434 104.5h3M641 104.5h3M431 105.5h3M644 105.5h2M429 106.5h2M646 106.5h2M426 107.5h3M648 107.5h2M424 108.5h3M650 108.5h2M421 109.5h3M652 109.5h1M419 110.5h2M653 110.5h2M417 111.5h2M655 111.5h2M415 112.5h2M657 112.5h2M413 113.5h2M659 113.5h2M411 114.5h2M661 114.5h1M410 115.5h2M662 115.5h2M217 116.5h7M408 116.5h2M664 116.5h1M214 117.5h3M224 117.5h4M407 117.5h1M665 117.5h1M210 118.5h4M228 118.5h4M405 118.5h2M666 118.5h2M207 119.5h3M232 119.5h4M404 119.5h1M668 119.5h1M203 120.5h4M236 120.5h4M401 120.5h3M669 120.5h1M199 121.5h4M240 121.5h4M399 121.5h2M670 121.5h2M196 122.5h3M244 122.5h4M396 122.5h3M672 122.5h1M189 123.5h7M248 123.5h4M394 123.5h2M673 123.5h1M182 124.5h7M252 124.5h3M391 124.5h3M674 124.5h2M176 125.5h6M255 125.5h5M389 125.5h2M676 125.5h1M172 126.5h4M260 126.5h6M382 126.5h7M677 126.5h2M168 127.5h4M266 127.5h6M376 127.5h6M679 127.5h1M164 128.5h4M272 128.5h6M370 128.5h6M680 128.5h1M160 129.5h4M278 129.5h18M366 129.5h4M681 129.5h2M156 130.5h4M295 130.5h6M362 130.5h4M683 130.5h1M152 131.5h4M301 131.5h6M357 131.5h5M684 131.5h1M147 132.5h5M307 132.5h5M353 132.5h4M685 132.5h2M146 133.5h2M312 133.5h8M349 133.5h4M686 133.5h2M144 134.5h2M320 134.5h9M345 134.5h4M688 134.5h1M142 135.5h2M329 135.5h16M689 135.5h1M140 136.5h2M690 136.5h1M137 137.5h3M691 137.5h1M132 138.5h5M692 138.5h1M126 139.5h6M693 139.5h2M121 140.5h5M695 140.5h1M115 141.5h6M696 141.5h1M109 142.5h6M697 142.5h1M104 143.5h5M698 143.5h1M75 144.5h29M699 144.5h1M63 145.5h12M700 145.5h1M56 146.5h7M701 146.5h2M50 147.5h6M703 147.5h1M44 148.5h6M704 148.5h1M38 149.5h6M705 149.5h1M34 150.5h4M706 150.5h1M30 151.5h4M707 151.5h1M26 152.5h4M708 152.5h1M3 153.5h4M22 153.5h4M709 153.5h1M7 154.5h15M710 154.5h2M712 155.5h1M713 156.5h1M714 157.5h1M715 158.5h2M717 159.5h2M719 160.5h2M721 161.5h3M724 162.5h2M726 163.5h2M728 164.5h3M731 165.5h1M732 166.5h1M733 167.5h1M735 170.5h1M736 172.5h2M738 174.5h1M739 175.5h1M741 178.5h1M742 179.5h1M744 182.5h1M745 183.5h1M747 186.5h1M748 187.5h1M749 188.5h1M751 192.5h2M753 194.5h1M754 195.5h1M756 199.5h2M758 201.5h1M761 206.5h1M764 211.5h1M767 216.5h1M769 219.5h1M772 224.5h1M775 229.5h1M777 232.5h1M778 233.5h1M780 236.5h1M782 239.5h1M784 242.5h1M786 245.5h1M788 248.5h1M790 251.5h1M791 252.5h1M793 255.5h1M795 258.5h1M1294 259.5h20M1289 260.5h5M1314 260.5h3M797 261.5h1M1283 261.5h6M1317 261.5h4M1282 262.5h2M1321 262.5h23M1280 263.5h2M1344 263.5h4M799 264.5h1M1278 264.5h2M1348 264.5h3M1277 265.5h1M1350 265.5h2M1275 266.5h2M1352 266.5h2M801 267.5h1M1273 267.5h2M1354 267.5h2M1272 268.5h1M1356 268.5h2M1270 269.5h2M1358 269.5h2M803 270.5h1M1269 270.5h1M1360 270.5h1M804 271.5h1M1268 271.5h1M1361 271.5h2M805 272.5h1M1267 272.5h1M1363 272.5h2M806 273.5h1M1266 273.5h1M1365 273.5h2M807 274.5h2M1265 274.5h1M1367 274.5h1M809 275.5h1M1368 275.5h2M810 276.5h1M1370 276.5h2M811 277.5h1M1263 277.5h1M1372 277.5h1M812 278.5h1M1262 278.5h1M1373 278.5h2M813 279.5h1M1261 279.5h1M1375 279.5h1M814 280.5h1M1376 280.5h2M1378 281.5h2M815 282.5h2M1259 282.5h1M1380 282.5h1M817 283.5h1M1258 283.5h1M1381 283.5h2M818 284.5h1M1257 284.5h1M1383 284.5h1M819 285.5h2M1256 285.5h1M1384 285.5h2M1386 286.5h3M1577 286.5h4M821 287.5h1M1389 287.5h2M1573 287.5h4M1581 287.5h3M822 288.5h1M1254 288.5h1M1391 288.5h3M1570 288.5h3M1584 288.5h2M823 289.5h1M1253 289.5h1M1394 289.5h2M1567 289.5h3M1586 289.5h3M824 290.5h1M1252 290.5h1M1396 290.5h1M1564 290.5h3M1589 290.5h3M825 291.5h1M1397 291.5h1M1561 291.5h3M1592 291.5h3M826 292.5h1M1398 292.5h1M1558 292.5h3M1595 292.5h3M827 293.5h1M1250 293.5h1M1399 293.5h1M1555 293.5h3M1598 293.5h3M828 294.5h1M1249 294.5h1M1400 294.5h2M1552 294.5h3M1601 294.5h3M1402 295.5h1M1550 295.5h2M1604 295.5h2M1403 296.5h1M1547 296.5h3M1606 296.5h2M1247 297.5h1M1404 297.5h1M1544 297.5h3M1608 297.5h2M1246 298.5h1M1405 298.5h2M1541 298.5h3M1610 298.5h2M1407 299.5h2M1538 299.5h3M1612 299.5h2M1409 300.5h2M1535 300.5h3M1614 300.5h2M832 301.5h1M1244 301.5h1M1411 301.5h2M1532 301.5h3M1616 301.5h2M1243 302.5h1M1413 302.5h1M1529 302.5h3M1618 302.5h2M1414 303.5h2M1526 303.5h3M1620 303.5h2M1416 304.5h2M1513 304.5h13M1622 304.5h2M1241 305.5h1M1418 305.5h2M1502 305.5h11M1624 305.5h2M1420 306.5h2M1497 306.5h5M1626 306.5h2M1422 307.5h1M1491 307.5h6M1628 307.5h2M1239 308.5h1M1423 308.5h2M1482 308.5h9M1630 308.5h23M1425 309.5h2M1470 309.5h12M1653 309.5h14M1427 310.5h2M1464 310.5h6M1237 311.5h1M1429 311.5h2M1461 311.5h3M1431 312.5h1M1458 312.5h3M1432 313.5h2M1455 313.5h3M839 314.5h1M1235 314.5h1M1434 314.5h9M1453 314.5h2M1443 315.5h10M1233 317.5h1M1230 322.5h1M845 325.5h1M1228 325.5h1M847 330.5h2M849 332.5h1M1224 332.5h1M850 333.5h1M852 336.5h1M854 340.5h2M1217 345.5h1M1212 354.5h1M1210 357.5h1M1209 358.5h1M1207 361.5h1M866 362.5h1M1206 362.5h1M868 365.5h1M1204 365.5h1M869 366.5h1M1203 366.5h1M871 369.5h1M1201 369.5h1M872 370.5h1M1200 370.5h1M874 373.5h1M1198 373.5h1M875 374.5h1M1197 374.5h1M876 375.5h1M1196 375.5h1M878 378.5h1M1194 378.5h1M879 379.5h1M1193 379.5h1M1192 380.5h1M1191 381.5h1M881 382.5h1M882 383.5h1M1189 384.5h1M1188 385.5h1M884 386.5h1M1187 386.5h1M885 387.5h1M1186 387.5h1M887 390.5h1M1184 390.5h1M888 391.5h1M1182 392.5h2M1181 393.5h1M890 394.5h1M1180 394.5h1M891 395.5h1M1179 395.5h1M893 398.5h1M1177 398.5h1M894 399.5h1M1176 399.5h1M895 400.5h1M1175 400.5h1M1174 401.5h1M1173 402.5h1M897 403.5h1M1172 403.5h1M1171 404.5h1M898 405.5h2M1170 405.5h1M900 406.5h1M1169 406.5h1M901 407.5h1M1168 407.5h1M902 408.5h1M903 409.5h1M904 410.5h1M1166 410.5h1M905 411.5h1M1165 411.5h1M906 412.5h2M1164 412.5h1M1162 413.5h2M908 414.5h2M1161 414.5h1M910 415.5h2M1160 415.5h1M912 416.5h1M1159 416.5h1M913 417.5h1M1158 417.5h1M914 418.5h2M1157 418.5h1M916 419.5h1M1156 419.5h1M917 420.5h2M1155 420.5h1M919 421.5h1M1154 421.5h1M920 422.5h1M1153 422.5h1M921 423.5h2M1152 423.5h1M923 424.5h2M1151 424.5h1M925 425.5h2M1150 425.5h1M927 426.5h2M1149 426.5h1M929 427.5h2M1148 427.5h1M931 428.5h2M1147 428.5h1M933 429.5h2M935 430.5h2M937 431.5h2M1145 431.5h1M938 432.5h2M1144 432.5h1M940 433.5h1M1143 433.5h1M941 434.5h1M1142 434.5h1M942 435.5h1M1141 435.5h1M943 436.5h1M1140 436.5h1M944 437.5h1M1139 437.5h1M945 438.5h1M1138 438.5h1M946 439.5h1M1137 439.5h1M947 440.5h2M1136 440.5h1M949 441.5h1M1135 441.5h1M950 442.5h1M1133 442.5h2M951 443.5h1M1132 443.5h1M952 444.5h1M1131 444.5h1M953 445.5h2M1130 445.5h1M955 446.5h1M1129 446.5h1M956 447.5h1M1128 447.5h1M957 448.5h1M1127 448.5h1M958 449.5h1M1126 449.5h1M959 450.5h2M1124 450.5h2M1123 451.5h1M961 452.5h2M1122 452.5h1M963 453.5h2M1120 453.5h2M965 454.5h1M1119 454.5h1M966 455.5h2M1118 455.5h1M968 456.5h2M1116 456.5h2M970 457.5h1M1115 457.5h1M971 458.5h2M1113 458.5h2M973 459.5h1M1112 459.5h1M974 460.5h2M1110 460.5h2M976 461.5h1M1034 461.5h12M1109 461.5h1M977 462.5h2M1031 462.5h3M1046 462.5h4M1107 462.5h2M979 463.5h1M1028 463.5h3M1050 463.5h4M1105 463.5h2M980 464.5h2M1025 464.5h3M1054 464.5h3M1101 464.5h4M982 465.5h2M1022 465.5h3M1057 465.5h4M1097 465.5h4M984 466.5h2M1020 466.5h2M1061 466.5h4M1093 466.5h4M986 467.5h1M1017 467.5h3M1065 467.5h4M1090 467.5h3M987 468.5h2M1014 468.5h3M1069 468.5h5M1086 468.5h4M989 469.5h2M1011 469.5h3M1074 469.5h12M991 470.5h2M1008 470.5h3M993 471.5h1M1006 471.5h2M994 472.5h12M532.5 95v1M734.5 168v2M736.5 171v1M737.5 173v1M740.5 176v2M743.5 180v2M746.5 184v2M750.5 189v2M751.5 191v1M752.5 193v1M755.5 196v2M756.5 198v1M757.5 200v1M759.5 202v2M760.5 204v2M762.5 207v2M763.5 209v2M765.5 212v2M766.5 214v2M768.5 217v2M770.5 220v2M771.5 222v2M773.5 225v2M774.5 227v2M776.5 230v2M779.5 234v2M781.5 237v2M783.5 240v2M785.5 243v2M787.5 246v2M789.5 249v2M792.5 253v2M794.5 256v2M796.5 259v2M798.5 262v2M800.5 265v2M802.5 268v2M815.5 281v1M820.5 286v1M829.5 295v2M830.5 297v2M831.5 299v2M833.5 302v2M834.5 304v2M835.5 306v2M836.5 308v2M837.5 310v2M838.5 312v2M840.5 315v2M841.5 317v2M842.5 319v2M843.5 321v2M844.5 323v2M846.5 326v2M847.5 328v2M848.5 331v1M851.5 334v2M853.5 337v2M854.5 339v1M855.5 341v1M856.5 342v2M857.5 344v2M858.5 346v2M859.5 348v2M860.5 350v2M861.5 352v2M862.5 354v2M863.5 356v2M864.5 358v2M865.5 360v2M867.5 363v2M870.5 367v2M873.5 371v2M877.5 376v2M880.5 380v2M883.5 384v2M886.5 388v2M889.5 392v2M892.5 396v2M896.5 401v2M898.5 404v1M908.5 413v1M961.5 451v1M1146.5 429v2M1167.5 408v2M1178.5 396v2M1183.5 391v1M1185.5 388v2M1190.5 382v2M1195.5 376v2M1199.5 371v2M1202.5 367v2M1205.5 363v2M1208.5 359v2M1211.5 355v2M1213.5 352v2M1214.5 350v2M1215.5 348v2M1216.5 346v2M1218.5 343v2M1219.5 341v2M1220.5 339v2M1221.5 337v2M1222.5 335v2M1223.5 333v2M1225.5 330v2M1226.5 328v2M1227.5 326v2M1229.5 323v2M1231.5 320v2M1232.5 318v2M1234.5 315v2M1236.5 312v2M1238.5 309v2M1240.5 306v2M1242.5 303v2M1245.5 299v2M1248.5 295v2M1251.5 291v2M1255.5 286v2M1260.5 280v2M1264.5 275v2" fill="none" stroke="#ffa500" stroke-width="1"/>
</g>
<rect x="3" y="70" width="1686" height="2" fill="#ff0000"/>
<rect x="3" y="199" width="1686" height="2" fill="#ff0000"/>
<rect x="3" y="328" width="1686" height="2" fill="#32cd32"/>
<rect x="3" y="490" width="1686" height="2" fill="#4169e1"/>
</g>
<g id="macd">
<rect x="3" y="627" width="1" height="5" fill="#c0c0c0"/>
<rect x="11" y="628" width="1" height="4" fill="#c0c0c0"/>
<rect x="19" y="628" width="1" height="4" fill="#c0c0c0"/>
<rect x="27" y="627" width="1" height="5" fill="#c0c0c0"/>
<rect x="35" y="628" width="1" height="4" fill="#c0c0c0"/>
<rect x="43" y="630" width="1" height="2" fill="#c0c0c0"/>
<rect x="51" y="629" width="1" height="3" fill="#c0c0c0"/>
<rect x="59" y="628" width="1" height="4" fill="#c0c0c0"/>
<rect x="67" y="624" width="1" height="8" fill="#c0c0c0"/>
<rect x="75" y="623" width="1" height="9" fill="#c0c0c0"/>
<rect x="83" y="623" width="1" height="9" fill="#c0c0c0"/>
<rect x="91" y="622" width="1" height="10" fill="#c0c0c0"/>
<rect x="99" y="622" width="1" height="10" fill="#c0c0c0"/>
<rect x="107" y="621" width="1" height="11" fill="#c0c0c0"/>
<rect x="115" y="620" width="1" height="12" fill="#c0c0c0"/>
<rect x="123" y="620" width="1" height="12" fill="#c0c0c0"/>
<rect x="131" y="619" width="1" height="13" fill="#c0c0c0"/>
<rect x="139" y="619" width="1" height="13" fill="#c0c0c0"/>
<rect x="147" y="619" width="1" height="13" fill="#c0c0c0"/>
<rect x="155" y="619" width="1" height="13" fill="#c0c0c0"/>
<rect x="163" y="619" width="1" height="13" fill="#c0c0c0"/>
<rect x="171" y="619" width="1" height="13" fill="#c0c0c0"/>
<rect x="179" y="619" width="1" height="13" fill="#c0c0c0"/>
<rect x="187" y="619" width="1" height="13" fill="#c0c0c0"/>
<rect x="195" y="620" width="1" height="12" fill="#c0c0c0"/>
<rect x="203" y="621" width="1" height="11" fill="#c0c0c0"/>
<rect x="211" y="622" width="1" height="10" fill="#c0c0c0"/>
<rect x="219" y="623" width="1" height="9" fill="#c0c0c0"/>
<rect x="227" y="624" width="1" height="8" fill="#c0c0c0"/>
<rect x="235" y="630" width="1" height="2" fill="#c0c0c0"/>
<rect x="243" y="631" width="1" height="5" fill="#c0c0c0"/>
<rect x="251" y="631" width="1" height="6" fill="#c0c0c0"/>
<rect x="259" y="631" width="1" height="6" fill="#c0c0c0"/>
<rect x="267" y="631" width="1" height="6" fill="#c0c0c0"/>
<rect x="275" y="631" width="1" height="5" fill="#c0c0c0"/>
<rect x="283" y="631" width="1" height="3" fill="#c0c0c0"/>
<rect x="291" y="631" width="1" height="2" fill="#c0c0c0"/>
<rect x="299" y="630" width="1" height="2" fill="#c0c0c0"/>
<rect x="307" y="630" width="1" height="2" fill="#c0c0c0"/>
<rect x="315" y="630" width="1" height="2" fill="#c0c0c0"/>
<rect x="323" y="630" width="1" height="2" fill="#c0c0c0"/>
<rect x="331" y="630" width="1" height="2" fill="#c0c0c0"/>
<rect x="339" y="630" width="1" height="2" fill="#c0c0c0"/>
<rect x="347" y="628" width="1" height="4" fill="#c0c0c0"/>
<rect x="355" y="624" width="1" height="8" fill="#c0c0c0"/>
<rect x="363" y="622" width="1" height="10" fill="#c0c0c0"/>
<rect x="371" y="620" width="1" height="12" fill="#c0c0c0"/>
<rect x="379" y="618" width="1" height="14" fill="#c0c0c0"/>
<rect x="387" y="618" width="1" height="14" fill="#c0c0c0"/>
<rect x="395" y="617" width="1" height="15" fill="#c0c0c0"/>
<rect x="403" y="617" width="1" height="15" fill="#c0c0c0"/>
<rect x="411" y="617" width="1" height="15" fill="#c0c0c0"/>
<rect x="419" y="616" width="1" height="16" fill="#c0c0c0"/>
<rect x="427" y="616" width="1" height="16" fill="#c0c0c0"/>
<rect x="435" y="618" width="1" height="14" fill="#c0c0c0"/>
<rect x="443" y="620" width="1" height="12" fill="#c0c0c0"/>
<rect x="451" y="622" width="1" height="10" fill="#c0c0c0"/>
<rect x="459" y="623" width="1" height="9" fill="#c0c0c0"/>
<rect x="467" y="625" width="1" height="7" fill="#c0c0c0"/>
<rect x="475" y="627" width="1" height="5" fill="#c0c0c0"/>
<rect x="483" y="627" width="1" height="5" fill="#c0c0c0"/>
<rect x="491" y="628" width="1" height="4" fill="#c0c0c0"/>
<rect x="499" y="629" width="1" height="3" fill="#c0c0c0"/>
<rect x="507" y="630" width="1" height="2" fill="#c0c0c0"/>
<rect x="515" y="630" width="1" height="2" fill="#c0c0c0"/>
<rect x="523" y="629" width="1" height="3" fill="#c0c0c0"/>
<rect x="531" y="627" width="1" height="5" fill="#c0c0c0"/>
<rect x="539" y="627" width="1" height="5" fill="#c0c0c0"/>
<rect x="547" y="627" width="1" height="5" fill="#c0c0c0"/>
<rect x="555" y="629" width="1" height="3" fill="#c0c0c0"/>
<rect x="563" y="630" width="1" height="2" fill="#c0c0c0"/>
<rect x="571" y="630" width="1" height="2" fill="#c0c0c0"/>
<rect x="579" y="630" width="1" height="2" fill="#c0c0c0"/>
<rect x="587" y="630" width="1" height="2" fill="#c0c0c0"/>
<rect x="595" y="630" width="1" height="2" fill="#c0c0c0"/>
<rect x="603" y="630" width="1" height="2" fill="#c0c0c0"/>
<rect x="611" y="630" width="1" height="2" fill="#c0c0c0"/>
<rect x="619" y="630" width="1" height="2" fill="#c0c0c0"/>
<rect x="627" y="630" width="1" height="2" fill="#c0c0c0"/>
<rect x="635" y="630" width="1" height="2" fill="#c0c0c0"/>
<rect x="643" y="631" width="1" height="7" fill="#c0c0c0"/>
<rect x="651" y="631" width="1" height="14" fill="#c0c0c0"/>
<rect x="659" y="631" width="1" height="16" fill="#c0c0c0"/>
<rect x="667" y="631" width="1" height="20" fill="#c0c0c0"/>
<rect x="675" y="631" width="1" height="24" fill="#c0c0c0"/>
<rect x="683" y="631" width="1" height="31" fill="#c0c0c0"/>
<rect x="691" y="631" width="1" height="34" fill="#c0c0c0"/>
<rect x="699" y="631" width="1" height="34" fill="#c0c0c0"/>
<rect x="707" y="631" width="1" height="36" fill="#c0c0c0"/>
<rect x="715" y="631" width="1" height="37" fill="#c0c0c0"/>
<rect x="723" y="631" width="1" height="35" fill="#c0c0c0"/>
<rect x="731" y="631" width="1" height="33" fill="#c0c0c0"/>
<rect x="739" y="631" width="1" height="34" fill="#c0c0c0"/>
<rect x="747" y="631" width="1" height="44" fill="#c0c0c0"/>
<rect x="755" y="631" width="1" height="49" fill="#c0c0c0"/>
<rect x="763" y="631" width="1" height="56" fill="#c0c0c0"/>
<rect x="771" y="631" width="1" height="57" fill="#c0c0c0"/>
<rect x="779" y="631" width="1" height="59" fill="#c0c0c0"/>
<rect x="787" y="631" width="1" height="59" fill="#c0c0c0"/>
<rect x="795" y="631" width="1" height="59" fill="#c0c0c0"/>
<rect x="803" y="631" width="1" height="59" fill="#c0c0c0"/>
<rect x="811" y="631" width="1" height="57" fill="#c0c0c0"/>
<rect x="819" y="631" width="1" height="58" fill="#c0c0c0"/>
<rect x="827" y="631" width="1" height="59" fill="#c0c0c0"/>
<rect x="835" y="631" width="1" height="63" fill="#c0c0c0"/>
<rect x="843" y="631" width="1" height="73" fill="#c0c0c0"/>
<rect x="851" y="631" width="1" height="78" fill="#c0c0c0"/>
<rect x="859" y="631" width="1" height="82" fill="#c0c0c0"/>
<rect x="867" y="631" width="1" height="84" fill="#c0c0c0"/>
<rect x="875" y="631" width="1" height="81" fill="#c0c0c0"/>
<rect x="883" y="631" width="1" height="76" fill="#c0c0c0"/>
<rect x="891" y="631" width="1" height="69" fill="#c0c0c0"/>
<rect x="899" y="631" width="1" height="64" fill="#c0c0c0"/>
<rect x="907" y="631" width="1" height="59" fill="#c0c0c0"/>
<rect x="915" y="631" width="1" height="55" fill="#c0c0c0"/>
<rect x="923" y="631" width="1" height="51" fill="#c0c0c0"/>
<rect x="931" y="631" width="1" height="49" fill="#c0c0c0"/>
<rect x="939" y="631" width="1" height="46" fill="#c0c0c0"/>
<rect x="947" y="631" width="1" height="46" fill="#c0c0c0"/>
<rect x="955" y="631" width="1" height="45" fill="#c0c0c0"/>
<rect x="963" y="631" width="1" height="44" fill="#c0c0c0"/>
<rect x="971" y="631" width="1" height="43" fill="#c0c0c0"/>
<rect x="979" y="631" width="1" height="41" fill="#c0c0c0"/>
<rect x="987" y="631" width="1" height="37" fill="#c0c0c0"/>
<rect x="995" y="631" width="1" height="34" fill="#c0c0c0"/>
<rect x="1003" y="631" width="1" height="32" fill="#c0c0c0"/>
<rect x="1011" y="631" width="1" height="30" fill="#c0c0c0"/>
<rect x="1019" y="631" width="1" height="27" fill="#c0c0c0"/>
<rect x="1027" y="631" width="1" height="26" fill="#c0c0c0"/>
<rect x="1035" y="631" width="1" height="24" fill="#c0c0c0"/>
<rect x="1043" y="631" width="1" height="23" fill="#c0c0c0"/>
<rect x="1051" y="631" width="1" height="22" fill="#c0c0c0"/>
<rect x="1059" y="631" width="1" height="21" fill="#c0c0c0"/>
<rect x="1067" y="631" width="1" height="20" fill="#c0c0c0"/>
<rect x="1075" y="631" width="1" height="19" fill="#c0c0c0"/>
<rect x="1083" y="631" width="1" height="16" fill="#c0c0c0"/>
<rect x="1091" y="631" width="1" height="12" fill="#c0c0c0"/>
<rect x="1099" y="631" width="1" height="7" fill="#c0c0c0"/>
<rect x="1107" y="631" width="1" height="2" fill="#c0c0c0"/>
<rect x="1115" y="626" width="1" height="6" fill="#c0c0c0"/>
<rect x="1123" y="620" width="1" height="12" fill="#c0c0c0"/>
<rect x="1131" y="615" width="1" height="17" fill="#c0c0c0"/>
<rect x="1139" y="608" width="1" height="24" fill="#c0c0c0"/>
<rect x="1147" y="601" width="1" height="31" fill="#c0c0c0"/>
<rect x="1155" y="595" width="1" height="37" fill="#c0c0c0"/>
<rect x="1163" y="594" width="1" height="38" fill="#c0c0c0"/>
<rect x="1171" y="593" width="1" height="39" fill="#c0c0c0"/>
<rect x="1179" y="591" width="1" height="41" fill="#c0c0c0"/>
<rect x="1187" y="586" width="1" height="46" fill="#c0c0c0"/>
<rect x="1195" y="582" width="1" height="50" fill="#c0c0c0"/>
<rect x="1203" y="579" width="1" height="53" fill="#c0c0c0"/>
<rect x="1211" y="575" width="1" height="57" fill="#c0c0c0"/>
<rect x="1219" y="574" width="1" height="58" fill="#c0c0c0"/>
<rect x="1227" y="575" width="1" height="57" fill="#c0c0c0"/>
<rect x="1235" y="574" width="1" height="58" fill="#c0c0c0"/>
<rect x="1243" y="576" width="1" height="56" fill="#c0c0c0"/>
<rect x="1251" y="578" width="1" height="54" fill="#c0c0c0"/>
<rect x="1259" y="580" width="1" height="52" fill="#c0c0c0"/>
<rect x="1267" y="581" width="1" height="51" fill="#c0c0c0"/>
<rect x="1275" y="587" width="1" height="45" fill="#c0c0c0"/>
<rect x="1283" y="592" width="1" height="40" fill="#c0c0c0"/>
<rect x="1291" y="602" width="1" height="30" fill="#c0c0c0"/>
<rect x="1299" y="608" width="1" height="24" fill="#c0c0c0"/>
<rect x="1307" y="612" width="1" height="20" fill="#c0c0c0"/>
<rect x="1315" y="617" width="1" height="15" fill="#c0c0c0"/>
<rect x="1323" y="621" width="1" height="11" fill="#c0c0c0"/>
<rect x="1331" y="625" width="1" height="7" fill="#c0c0c0"/>
<rect x="1339" y="628" width="1" height="4" fill="#c0c0c0"/>
<rect x="1347" y="630" width="1" height="2" fill="#c0c0c0"/>
<rect x="1355" y="631" width="1" height="1" fill="#c0c0c0"/>
<rect x="1363" y="631" width="1" height="1" fill="#c0c0c0"/>
<rect x="1371" y="631" width="1" height="3" fill="#c0c0c0"/>
<rect x="1379" y="631" width="1" height="3" fill="#c0c0c0"/>
<rect x="1387" y="631" width="1" height="4" fill="#c0c0c0"/>
<rect x="1395" y="631" width="1" height="5" fill="#c0c0c0"/>
<rect x="1403" y="631" width="1" height="7" fill="#c0c0c0"/>
<rect x="1411" y="631" width="1" height="7" fill="#c0c0c0"/>
<rect x="1419" y="631" width="1" height="8" fill="#c0c0c0"/>
<rect x="1427" y="631" width="1" height="7" fill="#c0c0c0"/>
<rect x="1435" y="631" width="1" height="6" fill="#c0c0c0"/>
<rect x="1443" y="631" width="1" height="1" fill="#c0c0c0"/>
<rect x="1451" y="630" width="1" height="2" fill="#c0c0c0"/>
<rect x="1459" y="627" width="1" height="5" fill="#c0c0c0"/>
<rect x="1467" y="625" width="1" height="7" fill="#c0c0c0"/>
<rect x="1475" y="626" width="1" height="6" fill="#c0c0c0"/>
<rect x="1483" y="626" width="1" height="6" fill="#c0c0c0"/>
<rect x="1491" y="626" width="1" height="6" fill="#c0c0c0"/>
<rect x="1499" y="626" width="1" height="6" fill="#c0c0c0"/>
<rect x="1507" y="626" width="1" height="6" fill="#c0c0c0"/>
<rect x="1515" y="626" width="1" height="6" fill="#c0c0c0"/>
<rect x="1523" y="627" width="1" height="5" fill="#c0c0c0"/>
<rect x="1531" y="626" width="1" height="6" fill="#c0c0c0"/>
<rect x="1539" y="625" width="1" height="7" fill="#c0c0c0"/>
<rect x="1547" y="623" width="1" height="9" fill="#c0c0c0"/>
<rect x="1555" y="622" width="1" height="10" fill="#c0c0c0"/>
<rect x="1563" y="622" width="1" height="10" fill="#c0c0c0"/>
<rect x="1571" y="622" width="1" height="10" fill="#c0c0c0"/>
<rect x="1579" y="622" width="1" height="10" fill="#c0c0c0"/>
<rect x="1587" y="631" width="1" height="1" fill="#c0c0c0"/>
<rect x="1595" y="631" width="1" height="7" fill="#c0c0c0"/>
<rect x="1603" y="631" width="1" height="9" fill="#c0c0c0"/>
<rect x="1611" y="631" width="1" height="14" fill="#c0c0c0"/>
<rect x="1619" y="631" width="1" height="16" fill="#c0c0c0"/>
<rect x="1627" y="631" width="1" height="17" fill="#c0c0c0"/>
<rect x="1635" y="631" width="1" height="14" fill="#c0c0c0"/>
<rect x="1643" y="631" width="1" height="7" fill="#c0c0c0"/>
<rect x="1651" y="631" width="1" height="6" fill="#c0c0c0"/>
<rect x="1659" y="631" width="1" height="5" fill="#c0c0c0"/>
<rect x="1667" y="631" width="1" height="3" fill="#c0c0c0"/>
<path d="M1258 576.5h2M1263 576.5h3M1251 577.5h3M1257 577.5h1M1269 577.5h3M1275 577.5h3M1245 578.5h3M1281 578.5h2M1239 579.5h3M1233 580.5h3M1286 580.5h2M1288 581.5h1M1228 582.5h2M1292 582.5h1M1227 583.5h1M1293 583.5h2M1222 584.5h2M1221 585.5h1M1298 585.5h2M1216 586.5h2M1300 586.5h1M1215 587.5h1M1211 588.5h1M1304 588.5h1M1209 589.5h2M1305 589.5h2M1203 591.5h3M1310 591.5h1M1311 592.5h1M1198 593.5h2M1312 593.5h1M1197 594.5h1M1316 595.5h1M1193 596.5h1M1317 596.5h1M1191 597.5h2M1318 597.5h1M1322 599.5h1M1186 600.5h2M1323 600.5h2M1185 601.5h1M1182 602.5h1M1180 603.5h2M1328 603.5h1M1329 604.5h2M1175 606.5h2M1174 607.5h1M1334 607.5h2M1336 608.5h1M1170 609.5h1M1168 610.5h2M1340 610.5h1M1341 611.5h2M1163 613.5h2M1346 613.5h1M1162 614.5h1M1347 614.5h1M1348 615.5h1M423 617.5h2M428 617.5h3M434 617.5h3M440 617.5h3M446 617.5h3M452 617.5h3M1158 617.5h1M1352 617.5h2M417 618.5h2M422 618.5h1M458 618.5h3M464 618.5h3M1156 618.5h2M1354 618.5h1M141 619.5h3M147 619.5h3M153 619.5h3M159 619.5h3M165 619.5h3M171 619.5h3M177 619.5h3M183 619.5h3M189 619.5h3M411 619.5h2M416 619.5h1M470 619.5h3M124 620.5h2M129 620.5h3M135 620.5h3M195 620.5h3M201 620.5h3M207 620.5h3M406 620.5h1M410 620.5h1M476 620.5h3M1358 620.5h2M3 621.5h3M117 621.5h3M123 621.5h1M213 621.5h3M219 621.5h2M400 621.5h1M404 621.5h2M482 621.5h3M1152 621.5h1M1360 621.5h1M9 622.5h3M111 622.5h3M221 622.5h1M225 622.5h3M398 622.5h2M488 622.5h3M1151 622.5h1M15 623.5h3M21 623.5h3M99 623.5h3M105 623.5h3M231 623.5h3M392 623.5h3M494 623.5h3M1150 623.5h1M1364 623.5h2M27 624.5h3M89 624.5h1M93 624.5h3M237 624.5h2M388 624.5h1M500 624.5h3M1366 624.5h1M1557 624.5h2M1562 624.5h3M1568 624.5h3M1574 624.5h3M1580 624.5h3M1586 624.5h3M1592 624.5h2M33 625.5h3M81 625.5h3M87 625.5h2M239 625.5h1M243 625.5h2M386 625.5h2M506 625.5h3M1146 625.5h1M1370 625.5h3M1533 625.5h2M1538 625.5h3M1544 625.5h3M1550 625.5h3M1556 625.5h1M1594 625.5h1M1598 625.5h2M39 626.5h3M45 626.5h3M51 626.5h3M63 626.5h3M69 626.5h3M75 626.5h3M245 626.5h1M249 626.5h2M380 626.5h3M512 626.5h3M518 626.5h3M524 626.5h2M1145 626.5h1M1376 626.5h2M1508 626.5h3M1514 626.5h3M1520 626.5h3M1526 626.5h3M1532 626.5h1M1600 626.5h1M57 627.5h3M251 627.5h1M255 627.5h3M526 627.5h1M530 627.5h3M536 627.5h3M542 627.5h2M1144 627.5h1M1378 627.5h1M1496 627.5h3M1502 627.5h3M1604 627.5h3M261 628.5h3M370 628.5h2M375 628.5h2M544 628.5h1M548 628.5h3M554 628.5h3M560 628.5h3M566 628.5h3M572 628.5h3M578 628.5h3M584 628.5h3M1382 628.5h3M1490 628.5h3M267 629.5h3M363 629.5h3M369 629.5h1M590 629.5h3M596 629.5h3M602 629.5h3M608 629.5h3M614 629.5h3M620 629.5h3M626 629.5h3M632 629.5h3M638 629.5h2M1140 629.5h1M1388 629.5h2M1484 629.5h3M1610 629.5h2M273 630.5h3M357 630.5h3M640 630.5h1M1139 630.5h1M1390 630.5h1M1478 630.5h3M1612 630.5h1M279 631.5h3M351 631.5h3M644 631.5h3M1138 631.5h1M1394 631.5h3M1472 631.5h3M1616 631.5h3M285 632.5h3M345 632.5h3M650 632.5h2M1400 632.5h2M1466 632.5h3M1622 632.5h2M291 633.5h3M297 633.5h1M333 633.5h3M339 633.5h3M652 633.5h1M1133 633.5h2M1402 633.5h1M1406 633.5h1M1461 633.5h2M1624 633.5h1M298 634.5h2M303 634.5h2M315 634.5h3M321 634.5h3M327 634.5h3M656 634.5h3M1132 634.5h1M1407 634.5h2M1412 634.5h1M1456 634.5h1M1460 634.5h1M1628 634.5h3M305 635.5h1M309 635.5h3M662 635.5h3M1413 635.5h2M1418 635.5h3M1424 635.5h1M1443 635.5h2M1448 635.5h3M1454 635.5h2M668 636.5h2M1128 636.5h1M1425 636.5h2M1430 636.5h3M1436 636.5h3M1442 636.5h1M1634 636.5h3M670 637.5h1M1126 637.5h2M674 638.5h3M1640 638.5h3M1122 639.5h1M1645 639.5h2M680 640.5h1M1120 640.5h2M1647 640.5h1M681 641.5h2M1651 641.5h3M1657 641.5h3M1663 641.5h3M1116 642.5h1M686 643.5h1M1115 643.5h1M687 644.5h1M1114 644.5h1M688 645.5h1M1109 645.5h2M1108 646.5h1M692 647.5h2M1103 647.5h2M694 648.5h1M1102 648.5h1M1097 649.5h2M698 650.5h2M1096 650.5h1M700 651.5h1M1090 651.5h3M1084 652.5h3M704 653.5h1M1078 653.5h3M705 654.5h2M1072 654.5h3M1066 655.5h3M710 656.5h1M1060 656.5h3M711 657.5h2M1055 657.5h2M716 658.5h1M1054 658.5h1M717 659.5h2M1048 659.5h3M722 660.5h3M1043 660.5h2M728 661.5h2M1042 661.5h1M730 662.5h1M1036 662.5h3M734 663.5h3M1031 663.5h2M740 664.5h2M1030 664.5h1M742 665.5h1M1024 665.5h3M746 666.5h3M752 667.5h1M1018 667.5h3M753 668.5h2M1013 668.5h2M758 669.5h2M1012 669.5h1M760 670.5h1M1006 670.5h3M764 671.5h3M1001 671.5h2M770 672.5h1M1000 672.5h1M771 673.5h2M994 673.5h3M988 674.5h3M776 675.5h2M984 675.5h2M778 676.5h1M983 676.5h1M782 677.5h3M977 677.5h3M788 678.5h2M972 678.5h2M790 679.5h1M794 679.5h1M971 679.5h1M795 680.5h2M965 680.5h3M800 682.5h1M960 682.5h2M801 683.5h2M959 683.5h1M955 684.5h1M806 685.5h3M953 685.5h2M812 686.5h2M814 687.5h1M948 687.5h2M817 688.5h3M823 688.5h3M829 688.5h3M835 689.5h1M944 689.5h1M836 690.5h2M942 690.5h2M841 691.5h3M847 692.5h2M937 692.5h2M849 693.5h1M853 693.5h1M936 693.5h1M854 694.5h2M859 695.5h3M931 695.5h2M864 696.5h2M930 696.5h1M866 697.5h1M926 697.5h1M924 698.5h2M870 699.5h2M872 700.5h1M920 700.5h1M876 701.5h1M918 701.5h2M877 702.5h2M882 702.5h1M914 702.5h1M883 703.5h2M888 703.5h1M908 703.5h1M912 703.5h2M889 704.5h2M894 704.5h2M901 704.5h2M906 704.5h2M896 705.5h1M900 705.5h1M376.5 627v1M948.5 688v1M1282.5 579v1" fill="none" stroke="#ff0000" stroke-width="1"/>
</g>
<g id="rsi">
<line x1="4" y1="770.5" x2="1688" y2="770.5" stroke="#c0c0c0" stroke-width="1" stroke-dasharray="3 3"/>
<line x1="4" y1="827.5" x2="1688" y2="827.5" stroke="#c0c0c0" stroke-width="1" stroke-dasharray="3 3"/>
<path d="M1208 757.5h12M1145 758.5h11M1204 758.5h4M1143 759.5h2M1196 759.5h8M1141 760.5h2M1188 760.5h8M1221 760.5h1M1139 761.5h2M1187 761.5h1M1138 762.5h1M1186 762.5h1M1137 763.5h1M1185 763.5h1M1223 763.5h1M1136 764.5h1M1184 764.5h1M1234 764.5h2M1135 765.5h1M1183 765.5h1M1233 765.5h1M1236 765.5h1M1134 766.5h1M1182 766.5h1M1232 766.5h1M1237 766.5h1M1181 767.5h1M1230 767.5h2M1180 768.5h1M1226 768.5h1M1229 768.5h1M1121 769.5h10M1132 769.5h1M1178 769.5h2M1227 769.5h2M1239 769.5h1M1118 770.5h3M1131 770.5h1M1176 770.5h2M1240 770.5h1M1116 771.5h2M1174 771.5h2M1241 771.5h1M1266 771.5h2M1114 772.5h2M1172 772.5h2M1264 772.5h2M1113 773.5h1M1165 773.5h7M1262 773.5h2M1112 774.5h1M1163 774.5h2M1243 774.5h15M1260 774.5h2M1111 775.5h1M1258 775.5h2M1110 776.5h1M1109 777.5h1M356 778.5h12M1108 778.5h1M147 779.5h2M352 779.5h4M368 779.5h12M1106 779.5h2M146 780.5h1M149 780.5h1M348 780.5h4M1105 780.5h1M145 781.5h1M150 781.5h1M347 781.5h1M395 781.5h4M408 781.5h5M1103 781.5h2M59 782.5h4M82 782.5h2M144 782.5h1M151 782.5h1M346 782.5h1M381 782.5h1M394 782.5h1M399 782.5h9M413 782.5h4M423 782.5h5M538 782.5h2M1101 782.5h2M1458 782.5h4M1546 782.5h10M63 783.5h4M81 783.5h1M84 783.5h1M152 783.5h1M345 783.5h1M382 783.5h1M393 783.5h1M417 783.5h6M535 783.5h3M1100 783.5h1M1456 783.5h2M1462 783.5h2M1544 783.5h2M1556 783.5h1M67 784.5h3M79 784.5h2M85 784.5h1M108 784.5h18M153 784.5h1M344 784.5h1M383 784.5h1M392 784.5h1M533 784.5h2M1099 784.5h1M1454 784.5h2M1464 784.5h3M1542 784.5h2M1557 784.5h1M57 785.5h1M70 785.5h2M78 785.5h1M86 785.5h1M106 785.5h2M126 785.5h2M142 785.5h1M154 785.5h1M384 785.5h1M391 785.5h1M531 785.5h2M1098 785.5h1M1452 785.5h2M1467 785.5h1M1540 785.5h2M1558 785.5h1M72 786.5h3M76 786.5h2M87 786.5h1M105 786.5h1M128 786.5h3M141 786.5h1M155 786.5h2M390 786.5h1M530 786.5h1M1097 786.5h1M1448 786.5h4M1533 786.5h7M1559 786.5h1M75 787.5h1M88 787.5h1M103 787.5h2M131 787.5h3M140 787.5h1M157 787.5h1M342 787.5h1M389 787.5h1M430 787.5h1M529 787.5h1M1444 787.5h4M1531 787.5h2M1560 787.5h1M89 788.5h1M102 788.5h1M134 788.5h6M158 788.5h1M341 788.5h1M386 788.5h1M388 788.5h1M527 788.5h2M1443 788.5h1M1561 788.5h1M90 789.5h1M100 789.5h2M159 789.5h2M210 789.5h10M340 789.5h1M387 789.5h1M526 789.5h1M1095 789.5h1M1441 789.5h2M1562 789.5h1M54 790.5h1M91 790.5h9M161 790.5h1M209 790.5h1M220 790.5h1M525 790.5h1M1094 790.5h1M1440 790.5h1M1470 790.5h1M1563 790.5h4M162 791.5h1M207 791.5h2M221 791.5h1M524 791.5h1M1093 791.5h1M1277 791.5h7M1439 791.5h1M1567 791.5h4M163 792.5h3M206 792.5h1M222 792.5h1M338 792.5h1M442 792.5h2M522 792.5h2M1275 792.5h2M1438 792.5h1M1528 792.5h1M1571 792.5h7M24 793.5h6M166 793.5h2M178 793.5h2M204 793.5h2M223 793.5h1M290 793.5h2M337 793.5h1M440 793.5h2M444 793.5h2M521 793.5h1M545 793.5h1M1437 793.5h1M1578 793.5h2M1656 793.5h5M20 794.5h4M30 794.5h2M168 794.5h2M174 794.5h4M180 794.5h2M200 794.5h4M224 794.5h1M288 794.5h2M292 794.5h2M336 794.5h1M434 794.5h1M438 794.5h2M446 794.5h1M519 794.5h2M579 794.5h3M1088 794.5h4M1426 794.5h8M1436 794.5h1M1641 794.5h9M1652 794.5h4M1661 794.5h3M17 795.5h3M32 795.5h2M51 795.5h1M170 795.5h4M182 795.5h2M194 795.5h6M225 795.5h1M285 795.5h3M294 795.5h2M435 795.5h3M447 795.5h1M517 795.5h2M577 795.5h2M582 795.5h5M590 795.5h6M618 795.5h4M1084 795.5h4M1425 795.5h1M1434 795.5h2M1482 795.5h8M1493 795.5h17M1639 795.5h2M1650 795.5h2M1664 795.5h2M15 796.5h2M34 796.5h2M184 796.5h2M190 796.5h4M226 796.5h1M283 796.5h2M296 796.5h2M448 796.5h1M516 796.5h1M576 796.5h1M587 796.5h3M596 796.5h1M616 796.5h2M622 796.5h5M1083 796.5h1M1424 796.5h1M1480 796.5h2M1490 796.5h3M1510 796.5h2M1636 796.5h3M1666 796.5h2M13 797.5h2M186 797.5h4M282 797.5h1M298 797.5h2M322 797.5h3M334 797.5h1M449 797.5h1M483 797.5h4M513 797.5h3M575 797.5h1M597 797.5h1M613 797.5h3M627 797.5h3M1422 797.5h2M1474 797.5h1M1478 797.5h2M1512 797.5h3M1635 797.5h1M6 798.5h7M49 798.5h1M281 798.5h1M300 798.5h2M318 798.5h4M325 798.5h2M333 798.5h1M450 798.5h1M482 798.5h1M487 798.5h4M511 798.5h2M548 798.5h1M573 798.5h2M598 798.5h1M611 798.5h2M630 798.5h2M1421 798.5h1M1475 798.5h3M1515 798.5h3M3 799.5h3M37 799.5h1M280 799.5h1M302 799.5h2M314 799.5h4M327 799.5h2M332 799.5h1M451 799.5h4M464 799.5h5M481 799.5h1M491 799.5h15M508 799.5h3M572 799.5h1M599 799.5h1M610 799.5h1M632 799.5h3M1420 799.5h1M1518 799.5h2M1524 799.5h1M38 800.5h1M279 800.5h1M304 800.5h2M310 800.5h4M329 800.5h3M455 800.5h4M460 800.5h4M469 800.5h1M480 800.5h1M506 800.5h2M569 800.5h3M600 800.5h1M608 800.5h2M1419 800.5h1M1520 800.5h4M47 801.5h1M266 801.5h3M278 801.5h1M306 801.5h4M459 801.5h1M470 801.5h1M479 801.5h1M550 801.5h1M567 801.5h2M607 801.5h1M1301 801.5h8M1373 801.5h16M1418 801.5h1M264 802.5h2M269 802.5h2M277 802.5h1M471 802.5h2M478 802.5h1M551 802.5h1M564 802.5h3M605 802.5h2M1298 802.5h3M1309 802.5h2M1371 802.5h2M1389 802.5h1M1417 802.5h1M40 803.5h1M262 803.5h2M271 803.5h2M276 803.5h1M473 803.5h1M477 803.5h1M562 803.5h2M602 803.5h1M604 803.5h1M1297 803.5h1M1311 803.5h2M1344 803.5h10M1370 803.5h1M1390 803.5h2M1416 803.5h1M41 804.5h1M45 804.5h1M260 804.5h2M273 804.5h3M474 804.5h1M476 804.5h1M561 804.5h1M603 804.5h1M1296 804.5h1M1313 804.5h2M1317 804.5h13M1340 804.5h4M1354 804.5h3M1369 804.5h1M1392 804.5h2M1415 804.5h1M251 805.5h9M475 805.5h1M553 805.5h1M559 805.5h2M1018 805.5h3M1295 805.5h1M1315 805.5h2M1330 805.5h10M1357 805.5h1M1368 805.5h1M1394 805.5h1M1414 805.5h1M554 806.5h1M557 806.5h2M1016 806.5h2M1021 806.5h1M1293 806.5h2M1358 806.5h1M1367 806.5h1M1395 806.5h2M1413 806.5h1M43 807.5h1M555 807.5h2M728 807.5h4M1014 807.5h2M1022 807.5h2M1291 807.5h2M1359 807.5h1M1366 807.5h1M1397 807.5h1M1412 807.5h1M725 808.5h3M987 808.5h6M1012 808.5h2M1024 808.5h1M1360 808.5h2M1365 808.5h1M1398 808.5h2M1410 808.5h2M1629 808.5h1M723 809.5h2M986 809.5h1M993 809.5h4M1010 809.5h2M1025 809.5h2M1054 809.5h8M1362 809.5h1M1364 809.5h1M1400 809.5h1M1407 809.5h3M984 810.5h2M997 810.5h3M1007 810.5h3M1027 810.5h6M1049 810.5h5M1062 810.5h4M1363 810.5h1M1401 810.5h2M1404 810.5h3M894 811.5h8M938 811.5h2M983 811.5h1M1000 811.5h3M1004 811.5h3M1033 811.5h8M1045 811.5h4M1066 811.5h7M1403 811.5h1M891 812.5h3M902 812.5h4M937 812.5h1M940 812.5h1M982 812.5h1M1003 812.5h1M1041 812.5h4M1073 812.5h3M1626 812.5h2M889 813.5h2M906 813.5h12M935 813.5h2M941 813.5h1M981 813.5h1M1624 813.5h2M888 814.5h1M918 814.5h4M934 814.5h1M942 814.5h1M980 814.5h1M1622 814.5h2M887 815.5h1M922 815.5h7M932 815.5h2M943 815.5h1M954 815.5h4M978 815.5h2M1602 815.5h3M1620 815.5h2M885 816.5h2M929 816.5h3M944 816.5h1M953 816.5h1M958 816.5h4M975 816.5h3M1599 816.5h3M1605 816.5h3M1617 816.5h3M884 817.5h1M951 817.5h2M962 817.5h6M973 817.5h2M1596 817.5h3M1608 817.5h3M1613 817.5h4M875 818.5h9M950 818.5h1M968 818.5h5M1595 818.5h1M1611 818.5h2M946 819.5h1M948 819.5h2M1594 819.5h1M699 820.5h2M947 820.5h1M698 821.5h1M701 821.5h2M697 822.5h1M703 822.5h2M1592 822.5h1M705 823.5h2M1591 823.5h1M707 824.5h6M695 825.5h1M713 825.5h3M771 825.5h6M659 826.5h3M694 826.5h1M777 826.5h8M798 826.5h16M1589 826.5h1M658 827.5h1M662 827.5h4M693 827.5h1M739 827.5h2M785 827.5h13M814 827.5h4M1587 827.5h2M242 828.5h2M657 828.5h1M666 828.5h3M741 828.5h1M769 828.5h1M818 828.5h4M1587 828.5h2M655 829.5h2M669 829.5h1M742 829.5h2M822 829.5h4M654 830.5h1M670 830.5h2M691 830.5h1M744 830.5h1M826 830.5h2M653 831.5h1M672 831.5h1M690 831.5h1M745 831.5h2M767 831.5h1M643 832.5h5M652 832.5h1M673 832.5h2M689 832.5h1M747 832.5h10M648 833.5h4M675 833.5h1M757 833.5h1M829 833.5h1M676 834.5h1M758 834.5h2M765 834.5h1M677 835.5h2M687 835.5h1M760 835.5h1M679 836.5h1M686 836.5h1M761 836.5h2M831 836.5h1M680 837.5h1M685 837.5h1M763 837.5h1M851 837.5h3M681 838.5h1M850 838.5h1M854 838.5h4M682 839.5h1M833 839.5h1M849 839.5h1M858 839.5h7M683 840.5h1M865 840.5h3M835 842.5h1M847 842.5h1M836 843.5h2M846 843.5h1M838 844.5h2M840 845.5h1M841 846.5h2M844 846.5h1M843 847.5h1M36.5 797v2M39.5 801v2M42.5 805v2M44.5 805v2M46.5 802v2M48.5 799v2M50.5 796v2M52.5 793v2M53.5 791v2M55.5 788v2M56.5 786v2M58.5 783v2M139.5 789v1M143.5 783v2M227.5 797v2M228.5 799v2M229.5 801v2M230.5 803v2M231.5 805v2M232.5 807v2M233.5 809v2M234.5 811v2M235.5 813v2M236.5 815v2M237.5 817v2M238.5 819v2M239.5 821v2M240.5 823v2M241.5 825v2M242.5 827v1M243.5 829v1M244.5 825v3M245.5 822v3M246.5 819v3M247.5 816v3M248.5 813v3M249.5 810v3M250.5 807v3M251.5 806v1M275.5 805v1M331.5 801v1M335.5 795v2M339.5 790v2M343.5 785v2M380.5 780v2M385.5 786v2M428.5 783v2M429.5 785v2M431.5 788v2M432.5 790v2M433.5 792v2M435.5 796v1M540.5 783v2M541.5 785v2M542.5 787v2M543.5 789v2M544.5 791v2M546.5 794v2M547.5 796v2M549.5 799v2M552.5 803v2M555.5 808v1M601.5 801v2M635.5 800v2M636.5 802v4M637.5 806v4M638.5 810v4M639.5 814v4M640.5 818v4M641.5 822v4M642.5 826v4M643.5 830v2M684.5 838v2M688.5 833v2M692.5 828v2M696.5 823v2M715.5 824v1M716.5 822v2M717.5 820v2M718.5 818v2M719.5 816v2M720.5 814v2M721.5 812v2M722.5 810v2M732.5 808v3M733.5 811v2M734.5 813v3M735.5 816v3M736.5 819v2M737.5 821v3M738.5 824v2M739.5 826v1M764.5 835v2M766.5 832v2M768.5 829v2M770.5 826v2M828.5 831v2M830.5 834v2M832.5 837v2M834.5 840v2M845.5 844v2M848.5 840v2M867.5 839v1M868.5 836v3M869.5 833v3M870.5 831v2M871.5 828v3M872.5 825v3M873.5 823v2M874.5 820v3M875.5 819v1M945.5 817v2M1075.5 811v1M1076.5 809v2M1077.5 807v2M1078.5 805v2M1079.5 803v2M1080.5 801v2M1081.5 799v2M1082.5 797v2M1092.5 792v2M1096.5 787v2M1133.5 767v2M1156.5 759v2M1157.5 761v2M1158.5 763v2M1159.5 765v2M1160.5 767v2M1161.5 769v2M1162.5 771v2M1163.5 773v1M1220.5 758v2M1222.5 761v2M1224.5 764v2M1225.5 766v2M1227.5 770v1M1238.5 767v2M1242.5 772v2M1268.5 772v3M1269.5 775v3M1270.5 778v2M1271.5 780v3M1272.5 783v3M1273.5 786v2M1274.5 788v3M1275.5 791v1M1284.5 792v2M1285.5 794v3M1286.5 797v2M1287.5 799v2M1288.5 801v2M1289.5 803v2M1290.5 805v2M1291.5 808v1M1468.5 786v2M1469.5 788v2M1471.5 791v2M1472.5 793v2M1473.5 795v2M1475.5 799v1M1523.5 801v1M1525.5 797v2M1526.5 795v2M1527.5 793v2M1529.5 790v2M1530.5 788v2M1579.5 794v1M1580.5 795v5M1581.5 800v4M1582.5 804v5M1583.5 809v5M1584.5 814v4M1585.5 818v5M1586.5 823v4M1587.5 829v1M1590.5 824v2M1593.5 820v2M1627.5 811v1M1628.5 809v2M1630.5 806v2M1631.5 804v2M1632.5 802v2M1633.5 800v2M1634.5 798v2" fill="none" stroke="#1e90ff" stroke-width="1"/>
</g>
<g id="price-axis">
<rect x="1689" y="31" width="2" height="1" fill="#000"/>
<text transform="translate(1694 35) scale(0.897 1)" fill="#000" font-size="10">44.115</text>
<rect x="1689" y="64" width="2" height="1" fill="#000"/>
<text transform="translate(1694 68) scale(0.897 1)" fill="#000" font-size="10">43.605</text>
<rect x="1689" y="97" width="2" height="1" fill="#000"/>
<text transform="translate(1694 101) scale(0.897 1)" fill="#000" font-size="10">43.095</text>
<rect x="1689" y="130" width="2" height="1" fill="#000"/>
<text transform="translate(1694 134) scale(0.897 1)" fill="#000" font-size="10">42.585</text>
<rect x="1689" y="163" width="2" height="1" fill="#000"/>
<text transform="translate(1694 167) scale(0.897 1)" fill="#000" font-size="10">42.075</text>
<rect x="1689" y="196" width="2" height="1" fill="#000"/>
<text transform="translate(1694 200) scale(0.897 1)" fill="#000" font-size="10">41.565</text>
<rect x="1689" y="229" width="2" height="1" fill="#000"/>
<text transform="translate(1694 233) scale(0.897 1)" fill="#000" font-size="10">41.055</text>
<rect x="1689" y="262" width="2" height="1" fill="#000"/>
<text transform="translate(1694 266) scale(0.897 1)" fill="#000" font-size="10">40.545</text>
<rect x="1689" y="295" width="2" height="1" fill="#000"/>
<text transform="translate(1694 299) scale(0.897 1)" fill="#000" font-size="10">40.035</text>
<rect x="1689" y="328" width="2" height="1" fill="#000"/>
<text transform="translate(1694 332) scale(0.897 1)" fill="#000" font-size="10">39.525</text>
<rect x="1689" y="361" width="2" height="1" fill="#000"/>
<text transform="translate(1694 365) scale(0.897 1)" fill="#000" font-size="10">39.015</text>
<rect x="1689" y="394" width="2" height="1" fill="#000"/>
<text transform="translate(1694 398) scale(0.897 1)" fill="#000" font-size="10">38.505</text>
<rect x="1689" y="427" width="2" height="1" fill="#000"/>
<text transform="translate(1694 431) scale(0.897 1)" fill="#000" font-size="10">37.995</text>
<rect x="1689" y="460" width="2" height="1" fill="#000"/>
<text transform="translate(1694 464) scale(0.897 1)" fill="#000" font-size="10">37.485</text>
<rect x="1689" y="493" width="2" height="1" fill="#000"/>
<text transform="translate(1694 497) scale(0.897 1)" fill="#000" font-size="10">36.975</text>
<rect x="1689" y="526" width="2" height="1" fill="#000"/>
<text transform="translate(1694 530) scale(0.897 1)" fill="#000" font-size="10">36.465</text>
<rect x="1689" y="559" width="2" height="1" fill="#000"/>
<text transform="translate(1694 563) scale(0.897 1)" fill="#000" font-size="10">35.955</text>
<rect x="1690" y="65" width="33" height="11" fill="#ff0000"/>
<text transform="translate(1694 74) scale(0.897 1)" fill="#fff" font-size="10">43.500</text>
<rect x="1690" y="194" width="33" height="11" fill="#ff0000"/>
<text transform="translate(1694 203) scale(0.897 1)" fill="#fff" font-size="10">41.500</text>
<rect x="1690" y="299" width="33" height="11" fill="#000"/>
<text transform="translate(1694 308) scale(0.897 1)" fill="#fff" font-size="10">39.890</text>
<rect x="1690" y="323" width="33" height="11" fill="#32cd32"/>
<text transform="translate(1694 332) scale(0.897 1)" fill="#fff" font-size="10">39.500</text>
<rect x="1690" y="485" width="33" height="11" fill="#4169e1"/>
<text transform="translate(1694 494) scale(0.897 1)" fill="#fff" font-size="10">37.000</text>
<rect x="1689" y="566" width="1" height="1" fill="#000"/>
<text transform="translate(1692 575) scale(0.897 1)" fill="#000" font-size="10">0.9779</text>
<rect x="1689" y="631" width="1" height="1" fill="#000"/>
<text transform="translate(1692.5 635) scale(0.897 1)" fill="#000" font-size="10">0.00</text>
<rect x="1689" y="722" width="1" height="1" fill="#000"/>
<text transform="translate(1692 720) scale(0.897 1)" fill="#000" font-size="10">-1.382</text>
<rect x="1689" y="727" width="1" height="1" fill="#000"/>
<text transform="translate(1692 736) scale(0.897 1)" fill="#000" font-size="10">100</text>
<text transform="translate(1691.5 774) scale(0.897 1)" fill="#000" font-size="10">70</text>
<text transform="translate(1691.5 831) scale(0.897 1)" fill="#000" font-size="10">30</text>
<rect x="1689" y="870" width="1" height="1" fill="#000"/>
<text transform="translate(1692 868) scale(0.897 1)" fill="#000" font-size="10">0</text>
</g>
<g id="time-axis">
<rect x="3" y="872" width="1" height="3" fill="#000"/>
<text transform="translate(2 884) scale(0.95 1)" fill="#000" font-size="10">14 Aug 2020</text>
<rect x="67" y="872" width="1" height="3" fill="#000"/>
<text transform="translate(66 884) scale(0.95 1)" fill="#000" font-size="10">17 Aug 20:00</text>
<rect x="131" y="872" width="1" height="3" fill="#000"/>
<text transform="translate(130 884) scale(0.95 1)" fill="#000" font-size="10">19 Aug 04:00</text>
<rect x="195" y="872" width="1" height="3" fill="#000"/>
<text transform="translate(194 884) scale(0.95 1)" fill="#000" font-size="10">20 Aug 12:00</text>
<rect x="259" y="872" width="1" height="3" fill="#000"/>
<text transform="translate(258 884) scale(0.95 1)" fill="#000" font-size="10">21 Aug 20:00</text>
<rect x="323" y="872" width="1" height="3" fill="#000"/>
<text transform="translate(322 884) scale(0.95 1)" fill="#000" font-size="10">25 Aug 00:00</text>
<rect x="387" y="872" width="1" height="3" fill="#000"/>
<text transform="translate(386 884) scale(0.95 1)" fill="#000" font-size="10">26 Aug 08:00</text>
<rect x="451" y="872" width="1" height="3" fill="#000"/>
<text transform="translate(450 884) scale(0.95 1)" fill="#000" font-size="10">27 Aug 16:00</text>
<rect x="515" y="872" width="1" height="3" fill="#000"/>
<text transform="translate(514 884) scale(0.95 1)" fill="#000" font-size="10">30 Aug 23:00</text>
<rect x="579" y="872" width="1" height="3" fill="#000"/>
<text transform="translate(578 884) scale(0.95 1)" fill="#000" font-size="10">1 Sep 04:00</text>
<rect x="643" y="872" width="1" height="3" fill="#000"/>
<text transform="translate(642 884) scale(0.95 1)" fill="#000" font-size="10">2 Sep 12:00</text>
<rect x="707" y="872" width="1" height="3" fill="#000"/>
<text transform="translate(706 884) scale(0.95 1)" fill="#000" font-size="10">3 Sep 20:00</text>
<rect x="771" y="872" width="1" height="3" fill="#000"/>
<text transform="translate(770 884) scale(0.95 1)" fill="#000" font-size="10">7 Sep 00:00</text>
<rect x="835" y="872" width="1" height="3" fill="#000"/>
<text transform="translate(834 884) scale(0.95 1)" fill="#000" font-size="10">8 Sep 08:00</text>
<rect x="899" y="872" width="1" height="3" fill="#000"/>
<text transform="translate(898 884) scale(0.95 1)" fill="#000" font-size="10">9 Sep 16:00</text>
<rect x="963" y="872" width="1" height="3" fill="#000"/>
<text transform="translate(962 884) scale(0.95 1)" fill="#000" font-size="10">11 Sep 00:00</text>
<rect x="1027" y="872" width="1" height="3" fill="#000"/>
<text transform="translate(1026 884) scale(0.95 1)" fill="#000" font-size="10">14 Sep 04:00</text>
<rect x="1091" y="872" width="1" height="3" fill="#000"/>
<text transform="translate(1090 884) scale(0.95 1)" fill="#000" font-size="10">15 Sep 12:00</text>
<rect x="1155" y="872" width="1" height="3" fill="#000"/>
<text transform="translate(1154 884) scale(0.95 1)" fill="#000" font-size="10">16 Sep 20:00</text>
<rect x="1219" y="872" width="1" height="3" fill="#000"/>
<text transform="translate(1218 884) scale(0.95 1)" fill="#000" font-size="10">18 Sep 04:00</text>
<rect x="1283" y="872" width="1" height="3" fill="#000"/>
<text transform="translate(1282 884) scale(0.95 1)" fill="#000" font-size="10">21 Sep 08:00</text>
<rect x="1347" y="872" width="1" height="3" fill="#000"/>
<text transform="translate(1346 884) scale(0.95 1)" fill="#000" font-size="10">22 Sep 16:00</text>
<rect x="1411" y="872" width="1" height="3" fill="#000"/>
<text transform="translate(1410 884) scale(0.95 1)" fill="#000" font-size="10">24 Sep 00:00</text>
<rect x="1475" y="872" width="1" height="3" fill="#000"/>
<text transform="translate(1474 884) scale(0.95 1)" fill="#000" font-size="10">25 Sep 08:00</text>
<rect x="1539" y="872" width="1" height="3" fill="#000"/>
<text transform="translate(1538 884) scale(0.95 1)" fill="#000" font-size="10">28 Sep 12:00</text>
<rect x="1603" y="872" width="1" height="3" fill="#000"/>
<text transform="translate(1602 884) scale(0.95 1)" fill="#000" font-size="10">29 Sep 20:00</text>
<rect x="1667" y="872" width="1" height="3" fill="#000"/>
<text transform="translate(1666 884) scale(0.95 1)" fill="#000" font-size="10">1 Oct 00:00</text>
</g>
<g id="labels">
<path d="M6 35h7l-3.5 4z" fill="#000"/>
<text transform="translate(19 40) scale(0.93 1)" fill="#000" font-size="10">USOil-,H4&#160;&#160;39.980 40.060 39.890 39.890</text>
<text transform="translate(7.3 577) scale(0.93 1)" fill="#000" font-size="10">MACD(12,26,9) -0.0564 -0.1601</text>
<text transform="translate(7.5 738) scale(0.93 1)" fill="#000" font-size="10">RSI(14) 51.9047</text>
<text x="1345.700" y="452.800" fill="#ee1c25" font-size="33.600" font-weight="400" font-family='"Liberation Sans", "Noto Sans CJK SC", sans-serif' shape-rendering="auto">多空转折点<tspan font-size="32.500" dx="-0.500">39.5</tspan></text>
</g>
<rect x="0" y="892" width="1723" height="1" fill="#e3e3e3"/>
<rect x="0" y="894" width="5" height="1" fill="#000"/>
<rect x="4" y="895" width="1" height="1" fill="#000"/>
<rect x="83" y="894" width="1640" height="1" fill="#000"/>
<rect x="83" y="895" width="1" height="1" fill="#000"/>
</svg></div>
<div id="toolbar">
<svg width="116" height="24" viewBox="0 0 116 24" shape-rendering="crispEdges">
<g stroke="#505050" stroke-width="1" stroke-dasharray="1 1"><line x1="1" y1="5.5" x2="12" y2="5.5"/><line x1="1" y1="8.5" x2="12" y2="8.5"/><line x1="1" y1="12.5" x2="12" y2="12.5"/><line x1="1" y1="16.5" x2="9" y2="16.5"/></g>
<path d="M9 16h4v1h-3v1h2v1h-2v2h-1z" fill="#404040"/>
<text transform="translate(29.500 17) scale(0.9 1)" font-size="12.5" fill="#555" stroke="#555" stroke-width="0.5" font-family='"Liberation Sans", "Noto Sans CJK SC", sans-serif' shape-rendering="auto">A</text>
<rect x="56.500" y="6.500" width="11" height="12" fill="none" stroke="#505050" stroke-dasharray="1 1"/>
<path d="M58 9h7.600v1.500h-3v6.300h-1.600v-6.300h-3z" fill="#505050" shape-rendering="auto"/><rect x="55" y="5" width="2" height="1" fill="#505050"/>
<g fill="#505050" shape-rendering="auto"><path d="M86.500 6l3.500 3.500-3.500 2.500-3.500-2.500z"/><path d="M93.500 19l-3.500-3.500 3.500-2.500 3.500 2.500z"/><path d="M85.500 12.500l1.800 2 5-5.500 1 1-6 7-2.800-3.500z"/></g>
<path d="M104 11h5.400l-2.700 3z" fill="#000" shape-rendering="auto"/>
</svg>
<span class="sep" style="left:115px"></span><span class="grip"></span>
<span class="tfon"></span><span class="tf" style="left:122.8px">M1</span><span class="tf" style="left:150.8px">M5</span><span class="tf" style="left:179.4px">M15</span><span class="tf" style="left:207.4px">M30</span><span class="tf" style="left:235.4px">H1</span><span class="tf" style="left:262.6px">H4</span><span class="tf" style="left:291.3px">D1</span><span class="tf" style="left:320.3px">W1</span><span class="tf" style="left:347.0px">MN</span>
<span class="sep" style="left:376px"></span>
</div>
</body></html>
